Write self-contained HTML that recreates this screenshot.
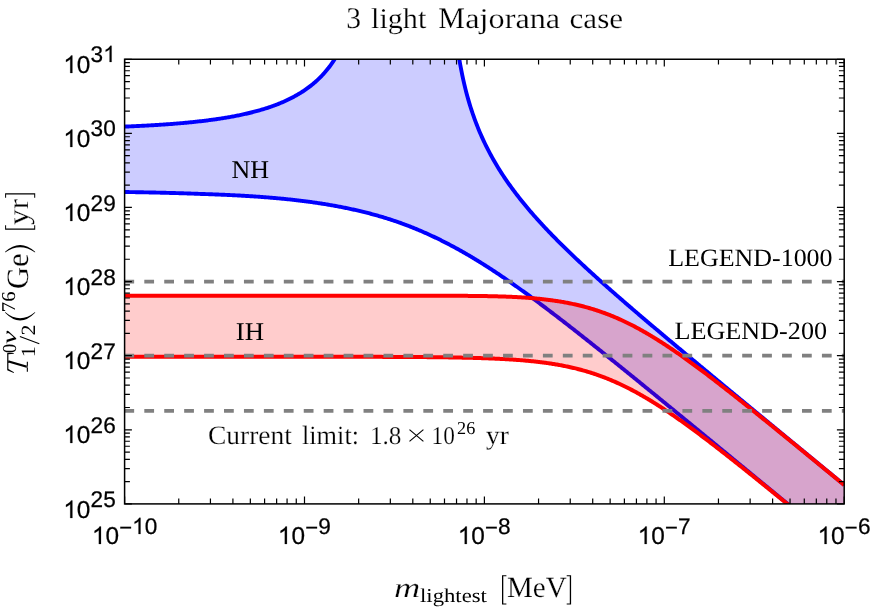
<!DOCTYPE html>
<html><head><meta charset="utf-8"><title>3 light Majorana case</title>
<style>html,body{margin:0;padding:0;background:#fff;}body{width:872px;height:615px;position:relative;overflow:hidden;font-family:"Liberation Sans",sans-serif;}</style>
</head><body>
<svg width="872" height="615" viewBox="0 0 872 615" style="position:absolute;left:0;top:0;will-change:transform" text-rendering="geometricPrecision">
<defs><clipPath id="c"><rect x="124.6" y="59.25" width="719.6" height="444.65"/></clipPath></defs>
<g clip-path="url(#c)">
<path d="M124.60,126.60 L125.63,126.56 L126.66,126.52 L127.69,126.48 L128.72,126.43 L129.75,126.39 L130.78,126.34 L131.81,126.30 L132.84,126.25 L133.87,126.21 L134.89,126.16 L135.92,126.11 L136.95,126.06 L137.98,126.01 L139.01,125.96 L140.04,125.91 L141.07,125.86 L142.10,125.81 L143.13,125.76 L144.16,125.70 L145.19,125.65 L146.22,125.59 L147.25,125.54 L148.28,125.48 L149.31,125.42 L150.34,125.36 L151.37,125.30 L152.40,125.24 L153.43,125.18 L154.45,125.12 L155.48,125.06 L156.51,124.99 L157.54,124.93 L158.57,124.87 L159.60,124.80 L160.63,124.73 L161.66,124.66 L162.69,124.59 L163.72,124.52 L164.75,124.45 L165.78,124.38 L166.81,124.31 L167.84,124.23 L168.87,124.16 L169.90,124.08 L170.93,124.00 L171.96,123.93 L172.99,123.85 L174.01,123.77 L175.04,123.68 L176.07,123.60 L177.10,123.52 L178.13,123.43 L179.16,123.34 L180.19,123.26 L181.22,123.17 L182.25,123.08 L183.28,122.98 L184.31,122.89 L185.34,122.79 L186.37,122.70 L187.40,122.60 L188.43,122.50 L189.46,122.40 L190.49,122.30 L191.52,122.20 L192.55,122.09 L193.57,121.99 L194.60,121.88 L195.63,121.77 L196.66,121.66 L197.69,121.54 L198.72,121.43 L199.75,121.31 L200.78,121.19 L201.81,121.07 L202.84,120.95 L203.87,120.83 L204.90,120.70 L205.93,120.58 L206.96,120.45 L207.99,120.32 L209.02,120.18 L210.05,120.05 L211.08,119.91 L212.11,119.77 L213.13,119.63 L214.16,119.49 L215.19,119.34 L216.22,119.20 L217.25,119.04 L218.28,118.89 L219.31,118.74 L220.34,118.58 L221.37,118.42 L222.40,118.26 L223.43,118.09 L224.46,117.93 L225.49,117.76 L226.52,117.58 L227.55,117.41 L228.58,117.23 L229.61,117.05 L230.64,116.87 L231.66,116.68 L232.69,116.49 L233.72,116.30 L234.75,116.10 L235.78,115.90 L236.81,115.70 L237.84,115.50 L238.87,115.29 L239.90,115.07 L240.93,114.86 L241.96,114.64 L242.99,114.42 L244.02,114.19 L245.05,113.96 L246.08,113.73 L247.11,113.49 L248.14,113.25 L249.17,113.00 L250.20,112.75 L251.22,112.50 L252.25,112.24 L253.28,111.98 L254.31,111.71 L255.34,111.44 L256.37,111.16 L257.40,110.88 L258.43,110.59 L259.46,110.30 L260.49,110.00 L261.52,109.70 L262.55,109.39 L263.58,109.08 L264.61,108.76 L265.64,108.44 L266.67,108.11 L267.70,107.78 L268.73,107.43 L269.76,107.09 L270.78,106.73 L271.81,106.37 L272.84,106.00 L273.87,105.63 L274.90,105.25 L275.93,104.86 L276.96,104.46 L277.99,104.06 L279.02,103.65 L280.05,103.23 L281.08,102.80 L282.11,102.37 L283.14,101.92 L284.17,101.47 L285.20,101.01 L286.23,100.53 L287.26,100.05 L288.29,99.56 L289.32,99.06 L290.34,98.55 L291.37,98.03 L292.40,97.50 L293.43,96.95 L294.46,96.40 L295.49,95.83 L296.52,95.25 L297.55,94.66 L298.58,94.05 L299.61,93.43 L300.64,92.80 L301.67,92.15 L302.70,91.49 L303.73,90.81 L304.76,90.12 L305.79,89.41 L306.82,88.68 L307.85,87.93 L308.88,87.17 L309.90,86.39 L310.93,85.59 L311.96,84.77 L312.99,83.92 L314.02,83.06 L315.05,82.17 L316.08,81.26 L317.11,80.32 L318.14,79.36 L319.17,78.37 L320.20,77.36 L321.23,76.31 L322.26,75.24 L323.29,74.13 L324.32,72.99 L325.35,71.81 L326.38,70.59 L327.41,69.34 L328.44,68.05 L329.46,66.71 L330.49,65.33 L331.52,63.90 L332.55,62.42 L333.58,60.89 L334.61,59.30 L335.64,57.65 L336.67,55.93 L337.70,54.15 L338.73,52.29 L339.76,50.35 L340.79,48.33 L341.82,46.22 L342.85,44.01 L343.88,41.69 L344.91,39.25 L345.94,36.69 L346.97,33.99 L348.00,31.14 L349.02,28.11 L350.05,24.90 L351.08,21.48 L352.11,17.82 L353.14,13.89 L354.17,9.66 L355.20,5.07 L356.23,0.07 L357.26,-5.43 L358.29,-11.51 L359.32,-18.31 L360.35,-26.00 L361.38,-34.86 L362.41,-45.27 L363.44,-57.85 L364.47,-73.71 L365.50,-95.10 L366.53,-127.84 L367.56,-199.41 L368.58,-300.00 L369.61,-300.00 L370.64,-300.00 L371.67,-300.00 L372.70,-300.00 L373.73,-300.00 L374.76,-300.00 L375.79,-300.00 L376.82,-300.00 L377.85,-300.00 L378.88,-300.00 L379.91,-300.00 L380.94,-300.00 L381.97,-300.00 L383.00,-300.00 L384.03,-300.00 L385.06,-300.00 L386.09,-300.00 L387.12,-300.00 L388.14,-300.00 L389.17,-300.00 L390.20,-300.00 L391.23,-300.00 L392.26,-300.00 L393.29,-300.00 L394.32,-300.00 L395.35,-300.00 L396.38,-300.00 L397.41,-300.00 L398.44,-300.00 L399.47,-300.00 L400.50,-300.00 L401.53,-300.00 L402.56,-300.00 L403.59,-300.00 L404.62,-300.00 L405.65,-300.00 L406.67,-300.00 L407.70,-300.00 L408.73,-300.00 L409.76,-300.00 L410.79,-300.00 L411.82,-300.00 L412.85,-300.00 L413.88,-300.00 L414.91,-300.00 L415.94,-300.00 L416.97,-300.00 L418.00,-300.00 L419.03,-300.00 L420.06,-300.00 L421.09,-300.00 L422.12,-300.00 L423.15,-300.00 L424.18,-300.00 L425.21,-300.00 L426.23,-300.00 L427.26,-300.00 L428.29,-300.00 L429.32,-300.00 L430.35,-300.00 L431.38,-300.00 L432.41,-300.00 L433.44,-300.00 L434.47,-300.00 L435.50,-300.00 L436.53,-300.00 L437.56,-300.00 L438.59,-300.00 L439.62,-300.00 L440.65,-300.00 L441.68,-300.00 L442.71,-300.00 L443.74,-300.00 L444.77,-300.00 L445.79,-300.00 L446.82,-300.00 L447.85,-300.00 L448.88,-102.64 L449.91,-55.73 L450.94,-28.67 L451.97,-9.50 L453.00,5.38 L454.03,17.57 L455.06,27.91 L456.09,36.90 L457.12,44.86 L458.15,52.01 L459.18,58.51 L460.21,64.47 L461.24,69.98 L462.27,75.10 L463.30,79.89 L464.33,84.39 L465.35,88.64 L466.38,92.67 L467.41,96.49 L468.44,100.14 L469.47,103.62 L470.50,106.96 L471.53,110.17 L472.56,113.25 L473.59,116.22 L474.62,119.09 L475.65,121.86 L476.68,124.55 L477.71,127.15 L478.74,129.68 L479.77,132.14 L480.80,134.53 L481.83,136.85 L482.86,139.12 L483.89,141.34 L484.91,143.50 L485.94,145.61 L486.97,147.68 L488.00,149.70 L489.03,151.68 L490.06,153.62 L491.09,155.53 L492.12,157.40 L493.15,159.23 L494.18,161.03 L495.21,162.80 L496.24,164.54 L497.27,166.26 L498.30,167.94 L499.33,169.61 L500.36,171.24 L501.39,172.85 L502.42,174.44 L503.45,176.01 L504.47,177.56 L505.50,179.08 L506.53,180.59 L507.56,182.08 L508.59,183.55 L509.62,185.00 L510.65,186.43 L511.68,187.85 L512.71,189.26 L513.74,190.64 L514.77,192.02 L515.80,193.38 L516.83,194.73 L517.86,196.06 L518.89,197.38 L519.92,198.69 L520.95,199.98 L521.98,201.27 L523.01,202.54 L524.03,203.81 L525.06,205.06 L526.09,206.30 L527.12,207.53 L528.15,208.75 L529.18,209.97 L530.21,211.17 L531.24,212.37 L532.27,213.56 L533.30,214.73 L534.33,215.91 L535.36,217.07 L536.39,218.22 L537.42,219.37 L538.45,220.51 L539.48,221.65 L540.51,222.77 L541.54,223.90 L542.57,225.01 L543.59,226.12 L544.62,227.22 L545.65,228.32 L546.68,229.41 L547.71,230.49 L548.74,231.57 L549.77,232.64 L550.80,233.71 L551.83,234.78 L552.86,235.83 L553.89,236.89 L554.92,237.94 L555.95,238.98 L556.98,240.02 L558.01,241.06 L559.04,242.09 L560.07,243.12 L561.10,244.14 L562.13,245.16 L563.15,246.18 L564.18,247.19 L565.21,248.20 L566.24,249.20 L567.27,250.20 L568.30,251.20 L569.33,252.19 L570.36,253.18 L571.39,254.17 L572.42,255.16 L573.45,256.14 L574.48,257.12 L575.51,258.09 L576.54,259.07 L577.57,260.04 L578.60,261.00 L579.63,261.97 L580.66,262.93 L581.68,263.89 L582.71,264.85 L583.74,265.80 L584.77,266.76 L585.80,267.71 L586.83,268.65 L587.86,269.60 L588.89,270.54 L589.92,271.49 L590.95,272.42 L591.98,273.36 L593.01,274.30 L594.04,275.23 L595.07,276.16 L596.10,277.09 L597.13,278.02 L598.16,278.95 L599.19,279.87 L600.22,280.79 L601.24,281.71 L602.27,282.63 L603.30,283.55 L604.33,284.47 L605.36,285.38 L606.39,286.30 L607.42,287.21 L608.45,288.12 L609.48,289.03 L610.51,289.93 L611.54,290.84 L612.57,291.75 L613.60,292.65 L614.63,293.55 L615.66,294.45 L616.69,295.35 L617.72,296.25 L618.75,297.15 L619.78,298.05 L620.80,298.94 L621.83,299.84 L622.86,300.73 L623.89,301.62 L624.92,302.51 L625.95,303.40 L626.98,304.29 L628.01,305.18 L629.04,306.07 L630.07,306.95 L631.10,307.84 L632.13,308.72 L633.16,309.61 L634.19,310.49 L635.22,311.37 L636.25,312.25 L637.28,313.14 L638.31,314.02 L639.34,314.89 L640.36,315.77 L641.39,316.65 L642.42,317.53 L643.45,318.40 L644.48,319.28 L645.51,320.15 L646.54,321.03 L647.57,321.90 L648.60,322.78 L649.63,323.65 L650.66,324.52 L651.69,325.39 L652.72,326.26 L653.75,327.13 L654.78,328.00 L655.81,328.87 L656.84,329.74 L657.87,330.61 L658.90,331.48 L659.92,332.34 L660.95,333.21 L661.98,334.08 L663.01,334.94 L664.04,335.81 L665.07,336.67 L666.10,337.54 L667.13,338.40 L668.16,339.27 L669.19,340.13 L670.22,340.99 L671.25,341.86 L672.28,342.72 L673.31,343.58 L674.34,344.44 L675.37,345.30 L676.40,346.16 L677.43,347.02 L678.46,347.88 L679.48,348.74 L680.51,349.60 L681.54,350.46 L682.57,351.32 L683.60,352.18 L684.63,353.04 L685.66,353.90 L686.69,354.76 L687.72,355.61 L688.75,356.47 L689.78,357.33 L690.81,358.19 L691.84,359.04 L692.87,359.90 L693.90,360.76 L694.93,361.61 L695.96,362.47 L696.99,363.33 L698.02,364.18 L699.04,365.04 L700.07,365.89 L701.10,366.75 L702.13,367.60 L703.16,368.46 L704.19,369.31 L705.22,370.17 L706.25,371.02 L707.28,371.87 L708.31,372.73 L709.34,373.58 L710.37,374.44 L711.40,375.29 L712.43,376.14 L713.46,377.00 L714.49,377.85 L715.52,378.70 L716.55,379.56 L717.58,380.41 L718.60,381.26 L719.63,382.11 L720.66,382.97 L721.69,383.82 L722.72,384.67 L723.75,385.52 L724.78,386.38 L725.81,387.23 L726.84,388.08 L727.87,388.93 L728.90,389.78 L729.93,390.63 L730.96,391.49 L731.99,392.34 L733.02,393.19 L734.05,394.04 L735.08,394.89 L736.11,395.74 L737.14,396.59 L738.16,397.44 L739.19,398.29 L740.22,399.14 L741.25,400.00 L742.28,400.85 L743.31,401.70 L744.34,402.55 L745.37,403.40 L746.40,404.25 L747.43,405.10 L748.46,405.95 L749.49,406.80 L750.52,407.65 L751.55,408.50 L752.58,409.35 L753.61,410.20 L754.64,411.05 L755.67,411.90 L756.69,412.75 L757.72,413.60 L758.75,414.45 L759.78,415.30 L760.81,416.15 L761.84,417.00 L762.87,417.85 L763.90,418.70 L764.93,419.55 L765.96,420.40 L766.99,421.25 L768.02,422.10 L769.05,422.94 L770.08,423.79 L771.11,424.64 L772.14,425.49 L773.17,426.34 L774.20,427.19 L775.23,428.04 L776.25,428.89 L777.28,429.74 L778.31,430.59 L779.34,431.44 L780.37,432.29 L781.40,433.14 L782.43,433.98 L783.46,434.83 L784.49,435.68 L785.52,436.53 L786.55,437.38 L787.58,438.23 L788.61,439.08 L789.64,439.93 L790.67,440.78 L791.70,441.63 L792.73,442.47 L793.76,443.32 L794.79,444.17 L795.81,445.02 L796.84,445.87 L797.87,446.72 L798.90,447.57 L799.93,448.42 L800.96,449.26 L801.99,450.11 L803.02,450.96 L804.05,451.81 L805.08,452.66 L806.11,453.51 L807.14,454.36 L808.17,455.20 L809.20,456.05 L810.23,456.90 L811.26,457.75 L812.29,458.60 L813.32,459.45 L814.35,460.30 L815.37,461.15 L816.40,461.99 L817.43,462.84 L818.46,463.69 L819.49,464.54 L820.52,465.39 L821.55,466.24 L822.58,467.08 L823.61,467.93 L824.64,468.78 L825.67,469.63 L826.70,470.48 L827.73,471.33 L828.76,472.18 L829.79,473.02 L830.82,473.87 L831.85,474.72 L832.88,475.57 L833.91,476.42 L834.93,477.27 L835.96,478.11 L836.99,478.96 L838.02,479.81 L839.05,480.66 L840.08,481.51 L841.11,482.36 L842.14,483.20 L843.17,484.05 L844.20,484.90 L844.20,550.46 L843.17,549.61 L842.14,548.76 L841.11,547.92 L840.08,547.07 L839.05,546.22 L838.02,545.37 L836.99,544.52 L835.96,543.68 L834.93,542.83 L833.91,541.98 L832.88,541.13 L831.85,540.28 L830.82,539.44 L829.79,538.59 L828.76,537.74 L827.73,536.89 L826.70,536.04 L825.67,535.20 L824.64,534.35 L823.61,533.50 L822.58,532.65 L821.55,531.80 L820.52,530.96 L819.49,530.11 L818.46,529.26 L817.43,528.41 L816.40,527.56 L815.37,526.72 L814.35,525.87 L813.32,525.02 L812.29,524.17 L811.26,523.32 L810.23,522.48 L809.20,521.63 L808.17,520.78 L807.14,519.93 L806.11,519.08 L805.08,518.24 L804.05,517.39 L803.02,516.54 L801.99,515.69 L800.96,514.84 L799.93,514.00 L798.90,513.15 L797.87,512.30 L796.84,511.45 L795.81,510.60 L794.79,509.76 L793.76,508.91 L792.73,508.06 L791.70,507.21 L790.67,506.36 L789.64,505.52 L788.61,504.67 L787.58,503.82 L786.55,502.97 L785.52,502.12 L784.49,501.28 L783.46,500.43 L782.43,499.58 L781.40,498.73 L780.37,497.89 L779.34,497.04 L778.31,496.19 L777.28,495.34 L776.25,494.49 L775.23,493.65 L774.20,492.80 L773.17,491.95 L772.14,491.10 L771.11,490.26 L770.08,489.41 L769.05,488.56 L768.02,487.71 L766.99,486.86 L765.96,486.02 L764.93,485.17 L763.90,484.32 L762.87,483.47 L761.84,482.63 L760.81,481.78 L759.78,480.93 L758.75,480.08 L757.72,479.24 L756.69,478.39 L755.67,477.54 L754.64,476.69 L753.61,475.85 L752.58,475.00 L751.55,474.15 L750.52,473.30 L749.49,472.46 L748.46,471.61 L747.43,470.76 L746.40,469.91 L745.37,469.07 L744.34,468.22 L743.31,467.37 L742.28,466.52 L741.25,465.68 L740.22,464.83 L739.19,463.98 L738.16,463.14 L737.14,462.29 L736.11,461.44 L735.08,460.59 L734.05,459.75 L733.02,458.90 L731.99,458.05 L730.96,457.21 L729.93,456.36 L728.90,455.51 L727.87,454.66 L726.84,453.82 L725.81,452.97 L724.78,452.12 L723.75,451.28 L722.72,450.43 L721.69,449.58 L720.66,448.74 L719.63,447.89 L718.60,447.04 L717.58,446.20 L716.55,445.35 L715.52,444.50 L714.49,443.66 L713.46,442.81 L712.43,441.97 L711.40,441.12 L710.37,440.27 L709.34,439.43 L708.31,438.58 L707.28,437.73 L706.25,436.89 L705.22,436.04 L704.19,435.20 L703.16,434.35 L702.13,433.51 L701.10,432.66 L700.07,431.81 L699.04,430.97 L698.02,430.12 L696.99,429.28 L695.96,428.43 L694.93,427.59 L693.90,426.74 L692.87,425.90 L691.84,425.05 L690.81,424.21 L689.78,423.36 L688.75,422.52 L687.72,421.67 L686.69,420.83 L685.66,419.98 L684.63,419.14 L683.60,418.29 L682.57,417.45 L681.54,416.60 L680.51,415.76 L679.48,414.92 L678.46,414.07 L677.43,413.23 L676.40,412.39 L675.37,411.54 L674.34,410.70 L673.31,409.85 L672.28,409.01 L671.25,408.17 L670.22,407.33 L669.19,406.48 L668.16,405.64 L667.13,404.80 L666.10,403.96 L665.07,403.11 L664.04,402.27 L663.01,401.43 L661.98,400.59 L660.95,399.75 L659.92,398.90 L658.90,398.06 L657.87,397.22 L656.84,396.38 L655.81,395.54 L654.78,394.70 L653.75,393.86 L652.72,393.02 L651.69,392.18 L650.66,391.34 L649.63,390.50 L648.60,389.66 L647.57,388.82 L646.54,387.98 L645.51,387.14 L644.48,386.30 L643.45,385.46 L642.42,384.63 L641.39,383.79 L640.36,382.95 L639.34,382.11 L638.31,381.27 L637.28,380.44 L636.25,379.60 L635.22,378.76 L634.19,377.93 L633.16,377.09 L632.13,376.26 L631.10,375.42 L630.07,374.59 L629.04,373.75 L628.01,372.92 L626.98,372.08 L625.95,371.25 L624.92,370.42 L623.89,369.58 L622.86,368.75 L621.83,367.92 L620.80,367.08 L619.78,366.25 L618.75,365.42 L617.72,364.59 L616.69,363.76 L615.66,362.93 L614.63,362.10 L613.60,361.27 L612.57,360.44 L611.54,359.61 L610.51,358.78 L609.48,357.96 L608.45,357.13 L607.42,356.30 L606.39,355.48 L605.36,354.65 L604.33,353.82 L603.30,353.00 L602.27,352.18 L601.24,351.35 L600.22,350.53 L599.19,349.70 L598.16,348.88 L597.13,348.06 L596.10,347.24 L595.07,346.42 L594.04,345.60 L593.01,344.78 L591.98,343.96 L590.95,343.14 L589.92,342.32 L588.89,341.51 L587.86,340.69 L586.83,339.87 L585.80,339.06 L584.77,338.24 L583.74,337.43 L582.71,336.62 L581.68,335.80 L580.66,334.99 L579.63,334.18 L578.60,333.37 L577.57,332.56 L576.54,331.75 L575.51,330.95 L574.48,330.14 L573.45,329.33 L572.42,328.53 L571.39,327.72 L570.36,326.92 L569.33,326.12 L568.30,325.31 L567.27,324.51 L566.24,323.71 L565.21,322.91 L564.18,322.12 L563.15,321.32 L562.13,320.52 L561.10,319.73 L560.07,318.93 L559.04,318.14 L558.01,317.35 L556.98,316.56 L555.95,315.77 L554.92,314.98 L553.89,314.19 L552.86,313.41 L551.83,312.62 L550.80,311.84 L549.77,311.05 L548.74,310.27 L547.71,309.49 L546.68,308.71 L545.65,307.93 L544.62,307.16 L543.59,306.38 L542.57,305.61 L541.54,304.84 L540.51,304.07 L539.48,303.30 L538.45,302.53 L537.42,301.76 L536.39,301.00 L535.36,300.23 L534.33,299.47 L533.30,298.71 L532.27,297.95 L531.24,297.20 L530.21,296.44 L529.18,295.69 L528.15,294.93 L527.12,294.18 L526.09,293.44 L525.06,292.69 L524.03,291.94 L523.01,291.20 L521.98,290.46 L520.95,289.72 L519.92,288.98 L518.89,288.25 L517.86,287.51 L516.83,286.78 L515.80,286.05 L514.77,285.33 L513.74,284.60 L512.71,283.88 L511.68,283.16 L510.65,282.44 L509.62,281.72 L508.59,281.01 L507.56,280.29 L506.53,279.58 L505.50,278.88 L504.47,278.17 L503.45,277.47 L502.42,276.77 L501.39,276.07 L500.36,275.37 L499.33,274.68 L498.30,273.99 L497.27,273.30 L496.24,272.62 L495.21,271.93 L494.18,271.25 L493.15,270.58 L492.12,269.90 L491.09,269.23 L490.06,268.56 L489.03,267.89 L488.00,267.23 L486.97,266.57 L485.94,265.91 L484.91,265.25 L483.89,264.60 L482.86,263.95 L481.83,263.31 L480.80,262.66 L479.77,262.02 L478.74,261.39 L477.71,260.75 L476.68,260.12 L475.65,259.49 L474.62,258.87 L473.59,258.25 L472.56,257.63 L471.53,257.01 L470.50,256.40 L469.47,255.79 L468.44,255.18 L467.41,254.58 L466.38,253.98 L465.35,253.39 L464.33,252.79 L463.30,252.21 L462.27,251.62 L461.24,251.04 L460.21,250.46 L459.18,249.88 L458.15,249.31 L457.12,248.74 L456.09,248.18 L455.06,247.62 L454.03,247.06 L453.00,246.50 L451.97,245.95 L450.94,245.40 L449.91,244.86 L448.88,244.32 L447.85,243.78 L446.82,243.25 L445.79,242.72 L444.77,242.19 L443.74,241.67 L442.71,241.15 L441.68,240.64 L440.65,240.12 L439.62,239.62 L438.59,239.11 L437.56,238.61 L436.53,238.11 L435.50,237.62 L434.47,237.13 L433.44,236.64 L432.41,236.16 L431.38,235.68 L430.35,235.20 L429.32,234.73 L428.29,234.26 L427.26,233.80 L426.23,233.34 L425.21,232.88 L424.18,232.43 L423.15,231.97 L422.12,231.53 L421.09,231.08 L420.06,230.64 L419.03,230.21 L418.00,229.78 L416.97,229.35 L415.94,228.92 L414.91,228.50 L413.88,228.08 L412.85,227.67 L411.82,227.25 L410.79,226.85 L409.76,226.44 L408.73,226.04 L407.70,225.64 L406.67,225.25 L405.65,224.86 L404.62,224.47 L403.59,224.09 L402.56,223.71 L401.53,223.33 L400.50,222.95 L399.47,222.59 L398.44,222.23 L397.41,221.87 L396.38,221.52 L395.35,221.17 L394.32,220.83 L393.29,220.49 L392.26,220.15 L391.23,219.81 L390.20,219.48 L389.17,219.15 L388.14,218.83 L387.12,218.50 L386.09,218.18 L385.06,217.87 L384.03,217.55 L383.00,217.24 L381.97,216.94 L380.94,216.63 L379.91,216.33 L378.88,216.03 L377.85,215.74 L376.82,215.45 L375.79,215.16 L374.76,214.87 L373.73,214.59 L372.70,214.31 L371.67,214.03 L370.64,213.75 L369.61,213.48 L368.58,213.21 L367.56,212.95 L366.53,212.68 L365.50,212.42 L364.47,212.16 L363.44,211.91 L362.41,211.66 L361.38,211.41 L360.35,211.16 L359.32,210.92 L358.29,210.67 L357.26,210.43 L356.23,210.20 L355.20,209.96 L354.17,209.73 L353.14,209.50 L352.11,209.28 L351.08,209.05 L350.05,208.83 L349.02,208.61 L348.00,208.39 L346.97,208.18 L345.94,207.97 L344.91,207.76 L343.88,207.55 L342.85,207.35 L341.82,207.14 L340.79,206.94 L339.76,206.75 L338.73,206.55 L337.70,206.36 L336.67,206.16 L335.64,205.98 L334.61,205.79 L333.58,205.60 L332.55,205.42 L331.52,205.24 L330.49,205.06 L329.46,204.89 L328.44,204.71 L327.41,204.54 L326.38,204.37 L325.35,204.20 L324.32,204.03 L323.29,203.87 L322.26,203.71 L321.23,203.55 L320.20,203.39 L319.17,203.23 L318.14,203.08 L317.11,202.92 L316.08,202.77 L315.05,202.62 L314.02,202.47 L312.99,202.33 L311.96,202.18 L310.93,202.04 L309.90,201.90 L308.88,201.76 L307.85,201.63 L306.82,201.49 L305.79,201.36 L304.76,201.22 L303.73,201.09 L302.70,200.97 L301.67,200.84 L300.64,200.71 L299.61,200.59 L298.58,200.47 L297.55,200.34 L296.52,200.23 L295.49,200.11 L294.46,199.99 L293.43,199.88 L292.40,199.76 L291.37,199.65 L290.34,199.54 L289.32,199.43 L288.29,199.32 L287.26,199.21 L286.23,199.11 L285.20,199.01 L284.17,198.90 L283.14,198.80 L282.11,198.70 L281.08,198.60 L280.05,198.51 L279.02,198.41 L277.99,198.32 L276.96,198.22 L275.93,198.13 L274.90,198.04 L273.87,197.95 L272.84,197.86 L271.81,197.77 L270.78,197.69 L269.76,197.60 L268.73,197.52 L267.70,197.43 L266.67,197.35 L265.64,197.27 L264.61,197.19 L263.58,197.11 L262.55,197.03 L261.52,196.96 L260.49,196.88 L259.46,196.81 L258.43,196.73 L257.40,196.66 L256.37,196.59 L255.34,196.52 L254.31,196.45 L253.28,196.38 L252.25,196.31 L251.22,196.25 L250.20,196.18 L249.17,196.12 L248.14,196.05 L247.11,195.99 L246.08,195.93 L245.05,195.87 L244.02,195.81 L242.99,195.75 L241.96,195.69 L240.93,195.63 L239.90,195.57 L238.87,195.52 L237.84,195.46 L236.81,195.41 L235.78,195.35 L234.75,195.30 L233.72,195.25 L232.69,195.20 L231.66,195.15 L230.64,195.10 L229.61,195.05 L228.58,195.00 L227.55,194.95 L226.52,194.90 L225.49,194.86 L224.46,194.81 L223.43,194.77 L222.40,194.72 L221.37,194.68 L220.34,194.63 L219.31,194.59 L218.28,194.55 L217.25,194.51 L216.22,194.47 L215.19,194.43 L214.16,194.39 L213.13,194.35 L212.11,194.31 L211.08,194.27 L210.05,194.24 L209.02,194.20 L207.99,194.17 L206.96,194.13 L205.93,194.10 L204.90,194.06 L203.87,194.03 L202.84,193.99 L201.81,193.96 L200.78,193.93 L199.75,193.90 L198.72,193.86 L197.69,193.82 L196.66,193.78 L195.63,193.74 L194.60,193.70 L193.57,193.66 L192.55,193.63 L191.52,193.59 L190.49,193.56 L189.46,193.52 L188.43,193.49 L187.40,193.45 L186.37,193.42 L185.34,193.38 L184.31,193.35 L183.28,193.32 L182.25,193.28 L181.22,193.25 L180.19,193.22 L179.16,193.19 L178.13,193.16 L177.10,193.13 L176.07,193.10 L175.04,193.07 L174.01,193.04 L172.99,193.01 L171.96,192.98 L170.93,192.95 L169.90,192.93 L168.87,192.90 L167.84,192.87 L166.81,192.85 L165.78,192.82 L164.75,192.79 L163.72,192.77 L162.69,192.74 L161.66,192.72 L160.63,192.69 L159.60,192.67 L158.57,192.64 L157.54,192.62 L156.51,192.60 L155.48,192.57 L154.45,192.55 L153.43,192.53 L152.40,192.51 L151.37,192.48 L150.34,192.46 L149.31,192.44 L148.28,192.42 L147.25,192.40 L146.22,192.38 L145.19,192.36 L144.16,192.34 L143.13,192.32 L142.10,192.30 L141.07,192.28 L140.04,192.26 L139.01,192.24 L137.98,192.22 L136.95,192.20 L135.92,192.19 L134.89,192.17 L133.87,192.15 L132.84,192.13 L131.81,192.11 L130.78,192.10 L129.75,192.08 L128.72,192.06 L127.69,192.05 L126.66,192.03 L125.63,192.02 L124.60,192.00Z" fill="#0000ff" fill-opacity="0.2"/>
<path d="M124.60,126.60 L125.63,126.56 L126.66,126.52 L127.69,126.48 L128.72,126.43 L129.75,126.39 L130.78,126.34 L131.81,126.30 L132.84,126.25 L133.87,126.21 L134.89,126.16 L135.92,126.11 L136.95,126.06 L137.98,126.01 L139.01,125.96 L140.04,125.91 L141.07,125.86 L142.10,125.81 L143.13,125.76 L144.16,125.70 L145.19,125.65 L146.22,125.59 L147.25,125.54 L148.28,125.48 L149.31,125.42 L150.34,125.36 L151.37,125.30 L152.40,125.24 L153.43,125.18 L154.45,125.12 L155.48,125.06 L156.51,124.99 L157.54,124.93 L158.57,124.87 L159.60,124.80 L160.63,124.73 L161.66,124.66 L162.69,124.59 L163.72,124.52 L164.75,124.45 L165.78,124.38 L166.81,124.31 L167.84,124.23 L168.87,124.16 L169.90,124.08 L170.93,124.00 L171.96,123.93 L172.99,123.85 L174.01,123.77 L175.04,123.68 L176.07,123.60 L177.10,123.52 L178.13,123.43 L179.16,123.34 L180.19,123.26 L181.22,123.17 L182.25,123.08 L183.28,122.98 L184.31,122.89 L185.34,122.79 L186.37,122.70 L187.40,122.60 L188.43,122.50 L189.46,122.40 L190.49,122.30 L191.52,122.20 L192.55,122.09 L193.57,121.99 L194.60,121.88 L195.63,121.77 L196.66,121.66 L197.69,121.54 L198.72,121.43 L199.75,121.31 L200.78,121.19 L201.81,121.07 L202.84,120.95 L203.87,120.83 L204.90,120.70 L205.93,120.58 L206.96,120.45 L207.99,120.32 L209.02,120.18 L210.05,120.05 L211.08,119.91 L212.11,119.77 L213.13,119.63 L214.16,119.49 L215.19,119.34 L216.22,119.20 L217.25,119.04 L218.28,118.89 L219.31,118.74 L220.34,118.58 L221.37,118.42 L222.40,118.26 L223.43,118.09 L224.46,117.93 L225.49,117.76 L226.52,117.58 L227.55,117.41 L228.58,117.23 L229.61,117.05 L230.64,116.87 L231.66,116.68 L232.69,116.49 L233.72,116.30 L234.75,116.10 L235.78,115.90 L236.81,115.70 L237.84,115.50 L238.87,115.29 L239.90,115.07 L240.93,114.86 L241.96,114.64 L242.99,114.42 L244.02,114.19 L245.05,113.96 L246.08,113.73 L247.11,113.49 L248.14,113.25 L249.17,113.00 L250.20,112.75 L251.22,112.50 L252.25,112.24 L253.28,111.98 L254.31,111.71 L255.34,111.44 L256.37,111.16 L257.40,110.88 L258.43,110.59 L259.46,110.30 L260.49,110.00 L261.52,109.70 L262.55,109.39 L263.58,109.08 L264.61,108.76 L265.64,108.44 L266.67,108.11 L267.70,107.78 L268.73,107.43 L269.76,107.09 L270.78,106.73 L271.81,106.37 L272.84,106.00 L273.87,105.63 L274.90,105.25 L275.93,104.86 L276.96,104.46 L277.99,104.06 L279.02,103.65 L280.05,103.23 L281.08,102.80 L282.11,102.37 L283.14,101.92 L284.17,101.47 L285.20,101.01 L286.23,100.53 L287.26,100.05 L288.29,99.56 L289.32,99.06 L290.34,98.55 L291.37,98.03 L292.40,97.50 L293.43,96.95 L294.46,96.40 L295.49,95.83 L296.52,95.25 L297.55,94.66 L298.58,94.05 L299.61,93.43 L300.64,92.80 L301.67,92.15 L302.70,91.49 L303.73,90.81 L304.76,90.12 L305.79,89.41 L306.82,88.68 L307.85,87.93 L308.88,87.17 L309.90,86.39 L310.93,85.59 L311.96,84.77 L312.99,83.92 L314.02,83.06 L315.05,82.17 L316.08,81.26 L317.11,80.32 L318.14,79.36 L319.17,78.37 L320.20,77.36 L321.23,76.31 L322.26,75.24 L323.29,74.13 L324.32,72.99 L325.35,71.81 L326.38,70.59 L327.41,69.34 L328.44,68.05 L329.46,66.71 L330.49,65.33 L331.52,63.90 L332.55,62.42 L333.58,60.89 L334.61,59.30 L335.64,57.65 L336.67,55.93 L337.70,54.15 L338.73,52.29 L339.76,50.35 L340.79,48.33 L341.82,46.22 L342.85,44.01 L343.88,41.69 L344.91,39.25 L345.94,36.69 L346.97,33.99 L348.00,31.14 L349.02,28.11 L350.05,24.90 L351.08,21.48 L352.11,17.82 L353.14,13.89 L354.17,9.66 L355.20,5.07 L356.23,0.07 L357.26,-5.43 L358.29,-11.51 L359.32,-18.31 L360.35,-26.00 L361.38,-34.86 L362.41,-45.27 L363.44,-57.85 L364.47,-73.71 L365.50,-95.10 L366.53,-127.84 L367.56,-199.41 L368.58,-300.00 L369.61,-300.00 L370.64,-300.00 L371.67,-300.00 L372.70,-300.00 L373.73,-300.00 L374.76,-300.00 L375.79,-300.00 L376.82,-300.00 L377.85,-300.00 L378.88,-300.00 L379.91,-300.00 L380.94,-300.00 L381.97,-300.00 L383.00,-300.00 L384.03,-300.00 L385.06,-300.00 L386.09,-300.00 L387.12,-300.00 L388.14,-300.00 L389.17,-300.00 L390.20,-300.00 L391.23,-300.00 L392.26,-300.00 L393.29,-300.00 L394.32,-300.00 L395.35,-300.00 L396.38,-300.00 L397.41,-300.00 L398.44,-300.00 L399.47,-300.00 L400.50,-300.00 L401.53,-300.00 L402.56,-300.00 L403.59,-300.00 L404.62,-300.00 L405.65,-300.00 L406.67,-300.00 L407.70,-300.00 L408.73,-300.00 L409.76,-300.00 L410.79,-300.00 L411.82,-300.00 L412.85,-300.00 L413.88,-300.00 L414.91,-300.00 L415.94,-300.00 L416.97,-300.00 L418.00,-300.00 L419.03,-300.00 L420.06,-300.00 L421.09,-300.00 L422.12,-300.00 L423.15,-300.00 L424.18,-300.00 L425.21,-300.00 L426.23,-300.00 L427.26,-300.00 L428.29,-300.00 L429.32,-300.00 L430.35,-300.00 L431.38,-300.00 L432.41,-300.00 L433.44,-300.00 L434.47,-300.00 L435.50,-300.00 L436.53,-300.00 L437.56,-300.00 L438.59,-300.00 L439.62,-300.00 L440.65,-300.00 L441.68,-300.00 L442.71,-300.00 L443.74,-300.00 L444.77,-300.00 L445.79,-300.00 L446.82,-300.00 L447.85,-300.00 L448.88,-102.64 L449.91,-55.73 L450.94,-28.67 L451.97,-9.50 L453.00,5.38 L454.03,17.57 L455.06,27.91 L456.09,36.90 L457.12,44.86 L458.15,52.01 L459.18,58.51 L460.21,64.47 L461.24,69.98 L462.27,75.10 L463.30,79.89 L464.33,84.39 L465.35,88.64 L466.38,92.67 L467.41,96.49 L468.44,100.14 L469.47,103.62 L470.50,106.96 L471.53,110.17 L472.56,113.25 L473.59,116.22 L474.62,119.09 L475.65,121.86 L476.68,124.55 L477.71,127.15 L478.74,129.68 L479.77,132.14 L480.80,134.53 L481.83,136.85 L482.86,139.12 L483.89,141.34 L484.91,143.50 L485.94,145.61 L486.97,147.68 L488.00,149.70 L489.03,151.68 L490.06,153.62 L491.09,155.53 L492.12,157.40 L493.15,159.23 L494.18,161.03 L495.21,162.80 L496.24,164.54 L497.27,166.26 L498.30,167.94 L499.33,169.61 L500.36,171.24 L501.39,172.85 L502.42,174.44 L503.45,176.01 L504.47,177.56 L505.50,179.08 L506.53,180.59 L507.56,182.08 L508.59,183.55 L509.62,185.00 L510.65,186.43 L511.68,187.85 L512.71,189.26 L513.74,190.64 L514.77,192.02 L515.80,193.38 L516.83,194.73 L517.86,196.06 L518.89,197.38 L519.92,198.69 L520.95,199.98 L521.98,201.27 L523.01,202.54 L524.03,203.81 L525.06,205.06 L526.09,206.30 L527.12,207.53 L528.15,208.75 L529.18,209.97 L530.21,211.17 L531.24,212.37 L532.27,213.56 L533.30,214.73 L534.33,215.91 L535.36,217.07 L536.39,218.22 L537.42,219.37 L538.45,220.51 L539.48,221.65 L540.51,222.77 L541.54,223.90 L542.57,225.01 L543.59,226.12 L544.62,227.22 L545.65,228.32 L546.68,229.41 L547.71,230.49 L548.74,231.57 L549.77,232.64 L550.80,233.71 L551.83,234.78 L552.86,235.83 L553.89,236.89 L554.92,237.94 L555.95,238.98 L556.98,240.02 L558.01,241.06 L559.04,242.09 L560.07,243.12 L561.10,244.14 L562.13,245.16 L563.15,246.18 L564.18,247.19 L565.21,248.20 L566.24,249.20 L567.27,250.20 L568.30,251.20 L569.33,252.19 L570.36,253.18 L571.39,254.17 L572.42,255.16 L573.45,256.14 L574.48,257.12 L575.51,258.09 L576.54,259.07 L577.57,260.04 L578.60,261.00 L579.63,261.97 L580.66,262.93 L581.68,263.89 L582.71,264.85 L583.74,265.80 L584.77,266.76 L585.80,267.71 L586.83,268.65 L587.86,269.60 L588.89,270.54 L589.92,271.49 L590.95,272.42 L591.98,273.36 L593.01,274.30 L594.04,275.23 L595.07,276.16 L596.10,277.09 L597.13,278.02 L598.16,278.95 L599.19,279.87 L600.22,280.79 L601.24,281.71 L602.27,282.63 L603.30,283.55 L604.33,284.47 L605.36,285.38 L606.39,286.30 L607.42,287.21 L608.45,288.12 L609.48,289.03 L610.51,289.93 L611.54,290.84 L612.57,291.75 L613.60,292.65 L614.63,293.55 L615.66,294.45 L616.69,295.35 L617.72,296.25 L618.75,297.15 L619.78,298.05 L620.80,298.94 L621.83,299.84 L622.86,300.73 L623.89,301.62 L624.92,302.51 L625.95,303.40 L626.98,304.29 L628.01,305.18 L629.04,306.07 L630.07,306.95 L631.10,307.84 L632.13,308.72 L633.16,309.61 L634.19,310.49 L635.22,311.37 L636.25,312.25 L637.28,313.14 L638.31,314.02 L639.34,314.89 L640.36,315.77 L641.39,316.65 L642.42,317.53 L643.45,318.40 L644.48,319.28 L645.51,320.15 L646.54,321.03 L647.57,321.90 L648.60,322.78 L649.63,323.65 L650.66,324.52 L651.69,325.39 L652.72,326.26 L653.75,327.13 L654.78,328.00 L655.81,328.87 L656.84,329.74 L657.87,330.61 L658.90,331.48 L659.92,332.34 L660.95,333.21 L661.98,334.08 L663.01,334.94 L664.04,335.81 L665.07,336.67 L666.10,337.54 L667.13,338.40 L668.16,339.27 L669.19,340.13 L670.22,340.99 L671.25,341.86 L672.28,342.72 L673.31,343.58 L674.34,344.44 L675.37,345.30 L676.40,346.16 L677.43,347.02 L678.46,347.88 L679.48,348.74 L680.51,349.60 L681.54,350.46 L682.57,351.32 L683.60,352.18 L684.63,353.04 L685.66,353.90 L686.69,354.76 L687.72,355.61 L688.75,356.47 L689.78,357.33 L690.81,358.19 L691.84,359.04 L692.87,359.90 L693.90,360.76 L694.93,361.61 L695.96,362.47 L696.99,363.33 L698.02,364.18 L699.04,365.04 L700.07,365.89 L701.10,366.75 L702.13,367.60 L703.16,368.46 L704.19,369.31 L705.22,370.17 L706.25,371.02 L707.28,371.87 L708.31,372.73 L709.34,373.58 L710.37,374.44 L711.40,375.29 L712.43,376.14 L713.46,377.00 L714.49,377.85 L715.52,378.70 L716.55,379.56 L717.58,380.41 L718.60,381.26 L719.63,382.11 L720.66,382.97 L721.69,383.82 L722.72,384.67 L723.75,385.52 L724.78,386.38 L725.81,387.23 L726.84,388.08 L727.87,388.93 L728.90,389.78 L729.93,390.63 L730.96,391.49 L731.99,392.34 L733.02,393.19 L734.05,394.04 L735.08,394.89 L736.11,395.74 L737.14,396.59 L738.16,397.44 L739.19,398.29 L740.22,399.14 L741.25,400.00 L742.28,400.85 L743.31,401.70 L744.34,402.55 L745.37,403.40 L746.40,404.25 L747.43,405.10 L748.46,405.95 L749.49,406.80 L750.52,407.65 L751.55,408.50 L752.58,409.35 L753.61,410.20 L754.64,411.05 L755.67,411.90 L756.69,412.75 L757.72,413.60 L758.75,414.45 L759.78,415.30 L760.81,416.15 L761.84,417.00 L762.87,417.85 L763.90,418.70 L764.93,419.55 L765.96,420.40 L766.99,421.25 L768.02,422.10 L769.05,422.94 L770.08,423.79 L771.11,424.64 L772.14,425.49 L773.17,426.34 L774.20,427.19 L775.23,428.04 L776.25,428.89 L777.28,429.74 L778.31,430.59 L779.34,431.44 L780.37,432.29 L781.40,433.14 L782.43,433.98 L783.46,434.83 L784.49,435.68 L785.52,436.53 L786.55,437.38 L787.58,438.23 L788.61,439.08 L789.64,439.93 L790.67,440.78 L791.70,441.63 L792.73,442.47 L793.76,443.32 L794.79,444.17 L795.81,445.02 L796.84,445.87 L797.87,446.72 L798.90,447.57 L799.93,448.42 L800.96,449.26 L801.99,450.11 L803.02,450.96 L804.05,451.81 L805.08,452.66 L806.11,453.51 L807.14,454.36 L808.17,455.20 L809.20,456.05 L810.23,456.90 L811.26,457.75 L812.29,458.60 L813.32,459.45 L814.35,460.30 L815.37,461.15 L816.40,461.99 L817.43,462.84 L818.46,463.69 L819.49,464.54 L820.52,465.39 L821.55,466.24 L822.58,467.08 L823.61,467.93 L824.64,468.78 L825.67,469.63 L826.70,470.48 L827.73,471.33 L828.76,472.18 L829.79,473.02 L830.82,473.87 L831.85,474.72 L832.88,475.57 L833.91,476.42 L834.93,477.27 L835.96,478.11 L836.99,478.96 L838.02,479.81 L839.05,480.66 L840.08,481.51 L841.11,482.36 L842.14,483.20 L843.17,484.05 L844.20,484.90" fill="none" stroke="#0000ff" stroke-width="3.9" stroke-linejoin="round"/>
<path d="M124.60,192.00 L125.63,192.02 L126.66,192.03 L127.69,192.05 L128.72,192.06 L129.75,192.08 L130.78,192.10 L131.81,192.11 L132.84,192.13 L133.87,192.15 L134.89,192.17 L135.92,192.19 L136.95,192.20 L137.98,192.22 L139.01,192.24 L140.04,192.26 L141.07,192.28 L142.10,192.30 L143.13,192.32 L144.16,192.34 L145.19,192.36 L146.22,192.38 L147.25,192.40 L148.28,192.42 L149.31,192.44 L150.34,192.46 L151.37,192.48 L152.40,192.51 L153.43,192.53 L154.45,192.55 L155.48,192.57 L156.51,192.60 L157.54,192.62 L158.57,192.64 L159.60,192.67 L160.63,192.69 L161.66,192.72 L162.69,192.74 L163.72,192.77 L164.75,192.79 L165.78,192.82 L166.81,192.85 L167.84,192.87 L168.87,192.90 L169.90,192.93 L170.93,192.95 L171.96,192.98 L172.99,193.01 L174.01,193.04 L175.04,193.07 L176.07,193.10 L177.10,193.13 L178.13,193.16 L179.16,193.19 L180.19,193.22 L181.22,193.25 L182.25,193.28 L183.28,193.32 L184.31,193.35 L185.34,193.38 L186.37,193.42 L187.40,193.45 L188.43,193.49 L189.46,193.52 L190.49,193.56 L191.52,193.59 L192.55,193.63 L193.57,193.66 L194.60,193.70 L195.63,193.74 L196.66,193.78 L197.69,193.82 L198.72,193.86 L199.75,193.90 L200.78,193.93 L201.81,193.96 L202.84,193.99 L203.87,194.03 L204.90,194.06 L205.93,194.10 L206.96,194.13 L207.99,194.17 L209.02,194.20 L210.05,194.24 L211.08,194.27 L212.11,194.31 L213.13,194.35 L214.16,194.39 L215.19,194.43 L216.22,194.47 L217.25,194.51 L218.28,194.55 L219.31,194.59 L220.34,194.63 L221.37,194.68 L222.40,194.72 L223.43,194.77 L224.46,194.81 L225.49,194.86 L226.52,194.90 L227.55,194.95 L228.58,195.00 L229.61,195.05 L230.64,195.10 L231.66,195.15 L232.69,195.20 L233.72,195.25 L234.75,195.30 L235.78,195.35 L236.81,195.41 L237.84,195.46 L238.87,195.52 L239.90,195.57 L240.93,195.63 L241.96,195.69 L242.99,195.75 L244.02,195.81 L245.05,195.87 L246.08,195.93 L247.11,195.99 L248.14,196.05 L249.17,196.12 L250.20,196.18 L251.22,196.25 L252.25,196.31 L253.28,196.38 L254.31,196.45 L255.34,196.52 L256.37,196.59 L257.40,196.66 L258.43,196.73 L259.46,196.81 L260.49,196.88 L261.52,196.96 L262.55,197.03 L263.58,197.11 L264.61,197.19 L265.64,197.27 L266.67,197.35 L267.70,197.43 L268.73,197.52 L269.76,197.60 L270.78,197.69 L271.81,197.77 L272.84,197.86 L273.87,197.95 L274.90,198.04 L275.93,198.13 L276.96,198.22 L277.99,198.32 L279.02,198.41 L280.05,198.51 L281.08,198.60 L282.11,198.70 L283.14,198.80 L284.17,198.90 L285.20,199.01 L286.23,199.11 L287.26,199.21 L288.29,199.32 L289.32,199.43 L290.34,199.54 L291.37,199.65 L292.40,199.76 L293.43,199.88 L294.46,199.99 L295.49,200.11 L296.52,200.23 L297.55,200.34 L298.58,200.47 L299.61,200.59 L300.64,200.71 L301.67,200.84 L302.70,200.97 L303.73,201.09 L304.76,201.22 L305.79,201.36 L306.82,201.49 L307.85,201.63 L308.88,201.76 L309.90,201.90 L310.93,202.04 L311.96,202.18 L312.99,202.33 L314.02,202.47 L315.05,202.62 L316.08,202.77 L317.11,202.92 L318.14,203.08 L319.17,203.23 L320.20,203.39 L321.23,203.55 L322.26,203.71 L323.29,203.87 L324.32,204.03 L325.35,204.20 L326.38,204.37 L327.41,204.54 L328.44,204.71 L329.46,204.89 L330.49,205.06 L331.52,205.24 L332.55,205.42 L333.58,205.60 L334.61,205.79 L335.64,205.98 L336.67,206.16 L337.70,206.36 L338.73,206.55 L339.76,206.75 L340.79,206.94 L341.82,207.14 L342.85,207.35 L343.88,207.55 L344.91,207.76 L345.94,207.97 L346.97,208.18 L348.00,208.39 L349.02,208.61 L350.05,208.83 L351.08,209.05 L352.11,209.28 L353.14,209.50 L354.17,209.73 L355.20,209.96 L356.23,210.20 L357.26,210.43 L358.29,210.67 L359.32,210.92 L360.35,211.16 L361.38,211.41 L362.41,211.66 L363.44,211.91 L364.47,212.16 L365.50,212.42 L366.53,212.68 L367.56,212.95 L368.58,213.21 L369.61,213.48 L370.64,213.75 L371.67,214.03 L372.70,214.31 L373.73,214.59 L374.76,214.87 L375.79,215.16 L376.82,215.45 L377.85,215.74 L378.88,216.03 L379.91,216.33 L380.94,216.63 L381.97,216.94 L383.00,217.24 L384.03,217.55 L385.06,217.87 L386.09,218.18 L387.12,218.50 L388.14,218.83 L389.17,219.15 L390.20,219.48 L391.23,219.81 L392.26,220.15 L393.29,220.49 L394.32,220.83 L395.35,221.17 L396.38,221.52 L397.41,221.87 L398.44,222.23 L399.47,222.59 L400.50,222.95 L401.53,223.33 L402.56,223.71 L403.59,224.09 L404.62,224.47 L405.65,224.86 L406.67,225.25 L407.70,225.64 L408.73,226.04 L409.76,226.44 L410.79,226.85 L411.82,227.25 L412.85,227.67 L413.88,228.08 L414.91,228.50 L415.94,228.92 L416.97,229.35 L418.00,229.78 L419.03,230.21 L420.06,230.64 L421.09,231.08 L422.12,231.53 L423.15,231.97 L424.18,232.43 L425.21,232.88 L426.23,233.34 L427.26,233.80 L428.29,234.26 L429.32,234.73 L430.35,235.20 L431.38,235.68 L432.41,236.16 L433.44,236.64 L434.47,237.13 L435.50,237.62 L436.53,238.11 L437.56,238.61 L438.59,239.11 L439.62,239.62 L440.65,240.12 L441.68,240.64 L442.71,241.15 L443.74,241.67 L444.77,242.19 L445.79,242.72 L446.82,243.25 L447.85,243.78 L448.88,244.32 L449.91,244.86 L450.94,245.40 L451.97,245.95 L453.00,246.50 L454.03,247.06 L455.06,247.62 L456.09,248.18 L457.12,248.74 L458.15,249.31 L459.18,249.88 L460.21,250.46 L461.24,251.04 L462.27,251.62 L463.30,252.21 L464.33,252.79 L465.35,253.39 L466.38,253.98 L467.41,254.58 L468.44,255.18 L469.47,255.79 L470.50,256.40 L471.53,257.01 L472.56,257.63 L473.59,258.25 L474.62,258.87 L475.65,259.49 L476.68,260.12 L477.71,260.75 L478.74,261.39 L479.77,262.02 L480.80,262.66 L481.83,263.31 L482.86,263.95 L483.89,264.60 L484.91,265.25 L485.94,265.91 L486.97,266.57 L488.00,267.23 L489.03,267.89 L490.06,268.56 L491.09,269.23 L492.12,269.90 L493.15,270.58 L494.18,271.25 L495.21,271.93 L496.24,272.62 L497.27,273.30 L498.30,273.99 L499.33,274.68 L500.36,275.37 L501.39,276.07 L502.42,276.77 L503.45,277.47 L504.47,278.17 L505.50,278.88 L506.53,279.58 L507.56,280.29 L508.59,281.01 L509.62,281.72 L510.65,282.44 L511.68,283.16 L512.71,283.88 L513.74,284.60 L514.77,285.33 L515.80,286.05 L516.83,286.78 L517.86,287.51 L518.89,288.25 L519.92,288.98 L520.95,289.72 L521.98,290.46 L523.01,291.20 L524.03,291.94 L525.06,292.69 L526.09,293.44 L527.12,294.18 L528.15,294.93 L529.18,295.69 L530.21,296.44 L531.24,297.20 L532.27,297.95 L533.30,298.71 L534.33,299.47 L535.36,300.23 L536.39,301.00 L537.42,301.76 L538.45,302.53 L539.48,303.30 L540.51,304.07 L541.54,304.84 L542.57,305.61 L543.59,306.38 L544.62,307.16 L545.65,307.93 L546.68,308.71 L547.71,309.49 L548.74,310.27 L549.77,311.05 L550.80,311.84 L551.83,312.62 L552.86,313.41 L553.89,314.19 L554.92,314.98 L555.95,315.77 L556.98,316.56 L558.01,317.35 L559.04,318.14 L560.07,318.93 L561.10,319.73 L562.13,320.52 L563.15,321.32 L564.18,322.12 L565.21,322.91 L566.24,323.71 L567.27,324.51 L568.30,325.31 L569.33,326.12 L570.36,326.92 L571.39,327.72 L572.42,328.53 L573.45,329.33 L574.48,330.14 L575.51,330.95 L576.54,331.75 L577.57,332.56 L578.60,333.37 L579.63,334.18 L580.66,334.99 L581.68,335.80 L582.71,336.62 L583.74,337.43 L584.77,338.24 L585.80,339.06 L586.83,339.87 L587.86,340.69 L588.89,341.51 L589.92,342.32 L590.95,343.14 L591.98,343.96 L593.01,344.78 L594.04,345.60 L595.07,346.42 L596.10,347.24 L597.13,348.06 L598.16,348.88 L599.19,349.70 L600.22,350.53 L601.24,351.35 L602.27,352.18 L603.30,353.00 L604.33,353.82 L605.36,354.65 L606.39,355.48 L607.42,356.30 L608.45,357.13 L609.48,357.96 L610.51,358.78 L611.54,359.61 L612.57,360.44 L613.60,361.27 L614.63,362.10 L615.66,362.93 L616.69,363.76 L617.72,364.59 L618.75,365.42 L619.78,366.25 L620.80,367.08 L621.83,367.92 L622.86,368.75 L623.89,369.58 L624.92,370.42 L625.95,371.25 L626.98,372.08 L628.01,372.92 L629.04,373.75 L630.07,374.59 L631.10,375.42 L632.13,376.26 L633.16,377.09 L634.19,377.93 L635.22,378.76 L636.25,379.60 L637.28,380.44 L638.31,381.27 L639.34,382.11 L640.36,382.95 L641.39,383.79 L642.42,384.63 L643.45,385.46 L644.48,386.30 L645.51,387.14 L646.54,387.98 L647.57,388.82 L648.60,389.66 L649.63,390.50 L650.66,391.34 L651.69,392.18 L652.72,393.02 L653.75,393.86 L654.78,394.70 L655.81,395.54 L656.84,396.38 L657.87,397.22 L658.90,398.06 L659.92,398.90 L660.95,399.75 L661.98,400.59 L663.01,401.43 L664.04,402.27 L665.07,403.11 L666.10,403.96 L667.13,404.80 L668.16,405.64 L669.19,406.48 L670.22,407.33 L671.25,408.17 L672.28,409.01 L673.31,409.85 L674.34,410.70 L675.37,411.54 L676.40,412.39 L677.43,413.23 L678.46,414.07 L679.48,414.92 L680.51,415.76 L681.54,416.60 L682.57,417.45 L683.60,418.29 L684.63,419.14 L685.66,419.98 L686.69,420.83 L687.72,421.67 L688.75,422.52 L689.78,423.36 L690.81,424.21 L691.84,425.05 L692.87,425.90 L693.90,426.74 L694.93,427.59 L695.96,428.43 L696.99,429.28 L698.02,430.12 L699.04,430.97 L700.07,431.81 L701.10,432.66 L702.13,433.51 L703.16,434.35 L704.19,435.20 L705.22,436.04 L706.25,436.89 L707.28,437.73 L708.31,438.58 L709.34,439.43 L710.37,440.27 L711.40,441.12 L712.43,441.97 L713.46,442.81 L714.49,443.66 L715.52,444.50 L716.55,445.35 L717.58,446.20 L718.60,447.04 L719.63,447.89 L720.66,448.74 L721.69,449.58 L722.72,450.43 L723.75,451.28 L724.78,452.12 L725.81,452.97 L726.84,453.82 L727.87,454.66 L728.90,455.51 L729.93,456.36 L730.96,457.21 L731.99,458.05 L733.02,458.90 L734.05,459.75 L735.08,460.59 L736.11,461.44 L737.14,462.29 L738.16,463.14 L739.19,463.98 L740.22,464.83 L741.25,465.68 L742.28,466.52 L743.31,467.37 L744.34,468.22 L745.37,469.07 L746.40,469.91 L747.43,470.76 L748.46,471.61 L749.49,472.46 L750.52,473.30 L751.55,474.15 L752.58,475.00 L753.61,475.85 L754.64,476.69 L755.67,477.54 L756.69,478.39 L757.72,479.24 L758.75,480.08 L759.78,480.93 L760.81,481.78 L761.84,482.63 L762.87,483.47 L763.90,484.32 L764.93,485.17 L765.96,486.02 L766.99,486.86 L768.02,487.71 L769.05,488.56 L770.08,489.41 L771.11,490.26 L772.14,491.10 L773.17,491.95 L774.20,492.80 L775.23,493.65 L776.25,494.49 L777.28,495.34 L778.31,496.19 L779.34,497.04 L780.37,497.89 L781.40,498.73 L782.43,499.58 L783.46,500.43 L784.49,501.28 L785.52,502.12 L786.55,502.97 L787.58,503.82 L788.61,504.67 L789.64,505.52 L790.67,506.36 L791.70,507.21 L792.73,508.06 L793.76,508.91 L794.79,509.76 L795.81,510.60 L796.84,511.45 L797.87,512.30 L798.90,513.15 L799.93,514.00 L800.96,514.84 L801.99,515.69 L803.02,516.54 L804.05,517.39 L805.08,518.24 L806.11,519.08 L807.14,519.93 L808.17,520.78 L809.20,521.63 L810.23,522.48 L811.26,523.32 L812.29,524.17 L813.32,525.02 L814.35,525.87 L815.37,526.72 L816.40,527.56 L817.43,528.41 L818.46,529.26 L819.49,530.11 L820.52,530.96 L821.55,531.80 L822.58,532.65 L823.61,533.50 L824.64,534.35 L825.67,535.20 L826.70,536.04 L827.73,536.89 L828.76,537.74 L829.79,538.59 L830.82,539.44 L831.85,540.28 L832.88,541.13 L833.91,541.98 L834.93,542.83 L835.96,543.68 L836.99,544.52 L838.02,545.37 L839.05,546.22 L840.08,547.07 L841.11,547.92 L842.14,548.76 L843.17,549.61 L844.20,550.46" fill="none" stroke="#0000ff" stroke-width="3.9" stroke-linejoin="round"/>
<path d="M124.60,295.78 L125.63,295.78 L126.66,295.78 L127.69,295.78 L128.72,295.78 L129.75,295.78 L130.78,295.78 L131.81,295.78 L132.84,295.78 L133.87,295.78 L134.89,295.78 L135.92,295.78 L136.95,295.78 L137.98,295.78 L139.01,295.78 L140.04,295.78 L141.07,295.78 L142.10,295.78 L143.13,295.78 L144.16,295.78 L145.19,295.78 L146.22,295.78 L147.25,295.78 L148.28,295.78 L149.31,295.78 L150.34,295.78 L151.37,295.78 L152.40,295.78 L153.43,295.78 L154.45,295.78 L155.48,295.78 L156.51,295.78 L157.54,295.78 L158.57,295.78 L159.60,295.78 L160.63,295.78 L161.66,295.78 L162.69,295.78 L163.72,295.78 L164.75,295.78 L165.78,295.78 L166.81,295.78 L167.84,295.78 L168.87,295.78 L169.90,295.78 L170.93,295.78 L171.96,295.78 L172.99,295.78 L174.01,295.78 L175.04,295.78 L176.07,295.78 L177.10,295.78 L178.13,295.78 L179.16,295.78 L180.19,295.78 L181.22,295.78 L182.25,295.77 L183.28,295.77 L184.31,295.77 L185.34,295.77 L186.37,295.77 L187.40,295.77 L188.43,295.77 L189.46,295.77 L190.49,295.77 L191.52,295.77 L192.55,295.77 L193.57,295.77 L194.60,295.77 L195.63,295.77 L196.66,295.77 L197.69,295.77 L198.72,295.77 L199.75,295.77 L200.78,295.77 L201.81,295.77 L202.84,295.77 L203.87,295.77 L204.90,295.77 L205.93,295.77 L206.96,295.77 L207.99,295.77 L209.02,295.77 L210.05,295.77 L211.08,295.77 L212.11,295.77 L213.13,295.77 L214.16,295.77 L215.19,295.77 L216.22,295.77 L217.25,295.77 L218.28,295.77 L219.31,295.77 L220.34,295.77 L221.37,295.77 L222.40,295.77 L223.43,295.77 L224.46,295.76 L225.49,295.76 L226.52,295.76 L227.55,295.76 L228.58,295.76 L229.61,295.76 L230.64,295.76 L231.66,295.76 L232.69,295.76 L233.72,295.76 L234.75,295.76 L235.78,295.76 L236.81,295.76 L237.84,295.76 L238.87,295.76 L239.90,295.76 L240.93,295.76 L241.96,295.76 L242.99,295.76 L244.02,295.76 L245.05,295.76 L246.08,295.76 L247.11,295.76 L248.14,295.76 L249.17,295.76 L250.20,295.76 L251.22,295.76 L252.25,295.76 L253.28,295.76 L254.31,295.75 L255.34,295.75 L256.37,295.75 L257.40,295.75 L258.43,295.75 L259.46,295.75 L260.49,295.75 L261.52,295.75 L262.55,295.75 L263.58,295.75 L264.61,295.75 L265.64,295.75 L266.67,295.75 L267.70,295.75 L268.73,295.75 L269.76,295.75 L270.78,295.75 L271.81,295.75 L272.84,295.75 L273.87,295.75 L274.90,295.75 L275.93,295.75 L276.96,295.74 L277.99,295.74 L279.02,295.74 L280.05,295.74 L281.08,295.74 L282.11,295.74 L283.14,295.74 L284.17,295.74 L285.20,295.74 L286.23,295.74 L287.26,295.74 L288.29,295.74 L289.32,295.74 L290.34,295.74 L291.37,295.74 L292.40,295.74 L293.43,295.74 L294.46,295.74 L295.49,295.73 L296.52,295.73 L297.55,295.73 L298.58,295.73 L299.61,295.73 L300.64,295.73 L301.67,295.73 L302.70,295.73 L303.73,295.73 L304.76,295.73 L305.79,295.73 L306.82,295.73 L307.85,295.73 L308.88,295.73 L309.90,295.73 L310.93,295.73 L311.96,295.72 L312.99,295.72 L314.02,295.72 L315.05,295.72 L316.08,295.72 L317.11,295.72 L318.14,295.72 L319.17,295.72 L320.20,295.72 L321.23,295.72 L322.26,295.72 L323.29,295.72 L324.32,295.72 L325.35,295.72 L326.38,295.72 L327.41,295.71 L328.44,295.71 L329.46,295.71 L330.49,295.71 L331.52,295.71 L332.55,295.71 L333.58,295.71 L334.61,295.71 L335.64,295.71 L336.67,295.71 L337.70,295.71 L338.73,295.71 L339.76,295.71 L340.79,295.71 L341.82,295.71 L342.85,295.70 L343.88,295.70 L344.91,295.70 L345.94,295.70 L346.97,295.70 L348.00,295.70 L349.02,295.70 L350.05,295.70 L351.08,295.70 L352.11,295.70 L353.14,295.70 L354.17,295.70 L355.20,295.70 L356.23,295.70 L357.26,295.70 L358.29,295.70 L359.32,295.69 L360.35,295.69 L361.38,295.69 L362.41,295.69 L363.44,295.69 L364.47,295.69 L365.50,295.69 L366.53,295.69 L367.56,295.69 L368.58,295.69 L369.61,295.69 L370.64,295.69 L371.67,295.69 L372.70,295.69 L373.73,295.69 L374.76,295.69 L375.79,295.69 L376.82,295.69 L377.85,295.69 L378.88,295.69 L379.91,295.69 L380.94,295.69 L381.97,295.69 L383.00,295.69 L384.03,295.69 L385.06,295.69 L386.09,295.69 L387.12,295.69 L388.14,295.69 L389.17,295.69 L390.20,295.69 L391.23,295.69 L392.26,295.69 L393.29,295.69 L394.32,295.69 L395.35,295.69 L396.38,295.69 L397.41,295.69 L398.44,295.69 L399.47,295.69 L400.50,295.69 L401.53,295.69 L402.56,295.69 L403.59,295.69 L404.62,295.70 L405.65,295.70 L406.67,295.70 L407.70,295.70 L408.73,295.70 L409.76,295.70 L410.79,295.70 L411.82,295.70 L412.85,295.71 L413.88,295.71 L414.91,295.71 L415.94,295.71 L416.97,295.71 L418.00,295.72 L419.03,295.72 L420.06,295.72 L421.09,295.72 L422.12,295.72 L423.15,295.73 L424.18,295.73 L425.21,295.73 L426.23,295.74 L427.26,295.74 L428.29,295.74 L429.32,295.75 L430.35,295.75 L431.38,295.75 L432.41,295.76 L433.44,295.76 L434.47,295.77 L435.50,295.77 L436.53,295.78 L437.56,295.78 L438.59,295.79 L439.62,295.79 L440.65,295.79 L441.68,295.79 L442.71,295.79 L443.74,295.79 L444.77,295.79 L445.79,295.79 L446.82,295.79 L447.85,295.79 L448.88,295.79 L449.91,295.80 L450.94,295.80 L451.97,295.80 L453.00,295.80 L454.03,295.80 L455.06,295.81 L456.09,295.81 L457.12,295.81 L458.15,295.82 L459.18,295.82 L460.21,295.83 L461.24,295.83 L462.27,295.84 L463.30,295.84 L464.33,295.85 L465.35,295.86 L466.38,295.86 L467.41,295.87 L468.44,295.88 L469.47,295.89 L470.50,295.90 L471.53,295.90 L472.56,295.91 L473.59,295.93 L474.62,295.94 L475.65,295.95 L476.68,295.96 L477.71,295.97 L478.74,295.99 L479.77,296.00 L480.80,296.02 L481.83,296.03 L482.86,296.05 L483.89,296.06 L484.91,296.08 L485.94,296.10 L486.97,296.12 L488.00,296.14 L489.03,296.16 L490.06,296.18 L491.09,296.20 L492.12,296.23 L493.15,296.25 L494.18,296.27 L495.21,296.30 L496.24,296.33 L497.27,296.35 L498.30,296.38 L499.33,296.41 L500.36,296.44 L501.39,296.48 L502.42,296.51 L503.45,296.54 L504.47,296.58 L505.50,296.62 L506.53,296.65 L507.56,296.69 L508.59,296.73 L509.62,296.78 L510.65,296.82 L511.68,296.86 L512.71,296.91 L513.74,296.96 L514.77,297.01 L515.80,297.06 L516.83,297.11 L517.86,297.16 L518.89,297.22 L519.92,297.27 L520.95,297.34 L521.98,297.41 L523.01,297.47 L524.03,297.55 L525.06,297.62 L526.09,297.69 L527.12,297.77 L528.15,297.85 L529.18,297.93 L530.21,298.01 L531.24,298.10 L532.27,298.18 L533.30,298.27 L534.33,298.36 L535.36,298.46 L536.39,298.55 L537.42,298.65 L538.45,298.75 L539.48,298.86 L540.51,298.96 L541.54,299.07 L542.57,299.19 L543.59,299.30 L544.62,299.42 L545.65,299.54 L546.68,299.66 L547.71,299.79 L548.74,299.92 L549.77,300.05 L550.80,300.19 L551.83,300.32 L552.86,300.47 L553.89,300.61 L554.92,300.76 L555.95,300.91 L556.98,301.07 L558.01,301.23 L559.04,301.39 L560.07,301.56 L561.10,301.73 L562.13,301.90 L563.15,302.08 L564.18,302.26 L565.21,302.45 L566.24,302.64 L567.27,302.83 L568.30,303.03 L569.33,303.23 L570.36,303.44 L571.39,303.65 L572.42,303.87 L573.45,304.09 L574.48,304.31 L575.51,304.54 L576.54,304.78 L577.57,305.01 L578.60,305.26 L579.63,305.50 L580.66,305.76 L581.68,306.02 L582.71,306.28 L583.74,306.55 L584.77,306.82 L585.80,307.10 L586.83,307.38 L587.86,307.67 L588.89,307.96 L589.92,308.26 L590.95,308.56 L591.98,308.87 L593.01,309.18 L594.04,309.50 L595.07,309.83 L596.10,310.16 L597.13,310.50 L598.16,310.84 L599.19,311.18 L600.22,311.54 L601.24,311.89 L602.27,312.26 L603.30,312.63 L604.33,313.00 L605.36,313.38 L606.39,313.77 L607.42,314.16 L608.45,314.56 L609.48,314.96 L610.51,315.37 L611.54,315.79 L612.57,316.21 L613.60,316.63 L614.63,317.07 L615.66,317.50 L616.69,317.95 L617.72,318.40 L618.75,318.85 L619.78,319.31 L620.80,319.78 L621.83,320.25 L622.86,320.73 L623.89,321.21 L624.92,321.70 L625.95,322.19 L626.98,322.69 L628.01,323.20 L629.04,323.71 L630.07,324.22 L631.10,324.74 L632.13,325.27 L633.16,325.80 L634.19,326.34 L635.22,326.88 L636.25,327.43 L637.28,327.98 L638.31,328.54 L639.34,329.10 L640.36,329.67 L641.39,330.24 L642.42,330.82 L643.45,331.40 L644.48,331.99 L645.51,332.58 L646.54,333.18 L647.57,333.78 L648.60,334.39 L649.63,335.00 L650.66,335.61 L651.69,336.23 L652.72,336.86 L653.75,337.49 L654.78,338.12 L655.81,338.76 L656.84,339.40 L657.87,340.04 L658.90,340.69 L659.92,341.35 L660.95,342.00 L661.98,342.67 L663.01,343.33 L664.04,344.00 L665.07,344.67 L666.10,345.35 L667.13,346.03 L668.16,346.71 L669.19,347.40 L670.22,348.09 L671.25,348.78 L672.28,349.48 L673.31,350.18 L674.34,350.88 L675.37,351.59 L676.40,352.30 L677.43,353.01 L678.46,353.73 L679.48,354.45 L680.51,355.17 L681.54,355.90 L682.57,356.62 L683.60,357.35 L684.63,358.09 L685.66,358.82 L686.69,359.56 L687.72,360.30 L688.75,361.04 L689.78,361.79 L690.81,362.53 L691.84,363.28 L692.87,364.04 L693.90,364.79 L694.93,365.55 L695.96,366.31 L696.99,367.07 L698.02,367.83 L699.04,368.60 L700.07,369.36 L701.10,370.13 L702.13,370.90 L703.16,371.67 L704.19,372.45 L705.22,373.22 L706.25,374.00 L707.28,374.78 L708.31,375.56 L709.34,376.35 L710.37,377.13 L711.40,377.92 L712.43,378.70 L713.46,379.49 L714.49,380.28 L715.52,381.07 L716.55,381.87 L717.58,382.66 L718.60,383.46 L719.63,384.25 L720.66,385.05 L721.69,385.85 L722.72,386.65 L723.75,387.46 L724.78,388.26 L725.81,389.06 L726.84,389.87 L727.87,390.67 L728.90,391.48 L729.93,392.29 L730.96,393.10 L731.99,393.91 L733.02,394.72 L734.05,395.53 L735.08,396.35 L736.11,397.16 L737.14,397.97 L738.16,398.79 L739.19,399.61 L740.22,400.42 L741.25,401.24 L742.28,402.06 L743.31,402.88 L744.34,403.70 L745.37,404.52 L746.40,405.34 L747.43,406.16 L748.46,406.99 L749.49,407.81 L750.52,408.64 L751.55,409.46 L752.58,410.29 L753.61,411.11 L754.64,411.94 L755.67,412.77 L756.69,413.59 L757.72,414.42 L758.75,415.25 L759.78,416.08 L760.81,416.91 L761.84,417.74 L762.87,418.57 L763.90,419.40 L764.93,420.23 L765.96,421.06 L766.99,421.90 L768.02,422.73 L769.05,423.56 L770.08,424.39 L771.11,425.23 L772.14,426.06 L773.17,426.90 L774.20,427.73 L775.23,428.57 L776.25,429.40 L777.28,430.24 L778.31,431.08 L779.34,431.91 L780.37,432.75 L781.40,433.59 L782.43,434.42 L783.46,435.26 L784.49,436.10 L785.52,436.94 L786.55,437.78 L787.58,438.61 L788.61,439.45 L789.64,440.29 L790.67,441.13 L791.70,441.97 L792.73,442.81 L793.76,443.65 L794.79,444.49 L795.81,445.33 L796.84,446.17 L797.87,447.01 L798.90,447.86 L799.93,448.70 L800.96,449.54 L801.99,450.38 L803.02,451.22 L804.05,452.06 L805.08,452.91 L806.11,453.75 L807.14,454.59 L808.17,455.43 L809.20,456.28 L810.23,457.12 L811.26,457.96 L812.29,458.80 L813.32,459.65 L814.35,460.49 L815.37,461.33 L816.40,462.18 L817.43,463.02 L818.46,463.87 L819.49,464.71 L820.52,465.55 L821.55,466.40 L822.58,467.24 L823.61,468.09 L824.64,468.93 L825.67,469.78 L826.70,470.62 L827.73,471.47 L828.76,472.31 L829.79,473.15 L830.82,474.00 L831.85,474.85 L832.88,475.69 L833.91,476.54 L834.93,477.38 L835.96,478.23 L836.99,479.07 L838.02,479.92 L839.05,480.76 L840.08,481.61 L841.11,482.45 L842.14,483.30 L843.17,484.15 L844.20,484.99 L844.20,550.54 L843.17,549.69 L842.14,548.85 L841.11,548.00 L840.08,547.15 L839.05,546.31 L838.02,545.46 L836.99,544.62 L835.96,543.77 L834.93,542.93 L833.91,542.08 L832.88,541.24 L831.85,540.39 L830.82,539.54 L829.79,538.70 L828.76,537.85 L827.73,537.01 L826.70,536.16 L825.67,535.32 L824.64,534.48 L823.61,533.63 L822.58,532.79 L821.55,531.94 L820.52,531.10 L819.49,530.25 L818.46,529.41 L817.43,528.56 L816.40,527.72 L815.37,526.88 L814.35,526.03 L813.32,525.19 L812.29,524.35 L811.26,523.50 L810.23,522.66 L809.20,521.82 L808.17,520.97 L807.14,520.13 L806.11,519.29 L805.08,518.45 L804.05,517.60 L803.02,516.76 L801.99,515.92 L800.96,515.08 L799.93,514.23 L798.90,513.39 L797.87,512.55 L796.84,511.71 L795.81,510.87 L794.79,510.03 L793.76,509.19 L792.73,508.35 L791.70,507.51 L790.67,506.67 L789.64,505.83 L788.61,504.99 L787.58,504.15 L786.55,503.31 L785.52,502.47 L784.49,501.63 L783.46,500.79 L782.43,499.95 L781.40,499.12 L780.37,498.28 L779.34,497.44 L778.31,496.60 L777.28,495.77 L776.25,494.93 L775.23,494.10 L774.20,493.26 L773.17,492.42 L772.14,491.59 L771.11,490.75 L770.08,489.92 L769.05,489.09 L768.02,488.25 L766.99,487.42 L765.96,486.58 L764.93,485.75 L763.90,484.92 L762.87,484.09 L761.84,483.26 L760.81,482.43 L759.78,481.60 L758.75,480.77 L757.72,479.94 L756.69,479.11 L755.67,478.28 L754.64,477.45 L753.61,476.62 L752.58,475.80 L751.55,474.97 L750.52,474.14 L749.49,473.32 L748.46,472.49 L747.43,471.67 L746.40,470.85 L745.37,470.02 L744.34,469.20 L743.31,468.38 L742.28,467.56 L741.25,466.74 L740.22,465.92 L739.19,465.10 L738.16,464.28 L737.14,463.46 L736.11,462.65 L735.08,461.83 L734.05,461.02 L733.02,460.20 L731.99,459.39 L730.96,458.58 L729.93,457.77 L728.90,456.96 L727.87,456.15 L726.84,455.34 L725.81,454.53 L724.78,453.73 L723.75,452.92 L722.72,452.12 L721.69,451.32 L720.66,450.51 L719.63,449.71 L718.60,448.91 L717.58,448.12 L716.55,447.32 L715.52,446.52 L714.49,445.73 L713.46,444.94 L712.43,444.14 L711.40,443.35 L710.37,442.56 L709.34,441.78 L708.31,440.99 L707.28,440.21 L706.25,439.42 L705.22,438.64 L704.19,437.86 L703.16,437.09 L702.13,436.31 L701.10,435.54 L700.07,434.76 L699.04,433.99 L698.02,433.22 L696.99,432.46 L695.96,431.69 L694.93,430.93 L693.90,430.17 L692.87,429.41 L691.84,428.65 L690.81,427.90 L689.78,427.15 L688.75,426.40 L687.72,425.65 L686.69,424.90 L685.66,424.16 L684.63,423.42 L683.60,422.68 L682.57,421.95 L681.54,421.21 L680.51,420.48 L679.48,419.76 L678.46,419.03 L677.43,418.31 L676.40,417.59 L675.37,416.87 L674.34,416.16 L673.31,415.45 L672.28,414.74 L671.25,414.04 L670.22,413.34 L669.19,412.64 L668.16,411.95 L667.13,411.26 L666.10,410.57 L665.07,409.88 L664.04,409.20 L663.01,408.53 L661.98,407.85 L660.95,407.18 L659.92,406.52 L658.90,405.85 L657.87,405.20 L656.84,404.54 L655.81,403.89 L654.78,403.24 L653.75,402.60 L652.72,401.96 L651.69,401.33 L650.66,400.70 L649.63,400.07 L648.60,399.45 L647.57,398.83 L646.54,398.22 L645.51,397.61 L644.48,397.01 L643.45,396.41 L642.42,395.82 L641.39,395.23 L640.36,394.64 L639.34,394.06 L638.31,393.49 L637.28,392.92 L636.25,392.35 L635.22,391.79 L634.19,391.24 L633.16,390.69 L632.13,390.14 L631.10,389.60 L630.07,389.07 L629.04,388.54 L628.01,388.01 L626.98,387.49 L625.95,386.98 L624.92,386.47 L623.89,385.97 L622.86,385.47 L621.83,384.97 L620.80,384.49 L619.78,384.01 L618.75,383.53 L617.72,383.06 L616.69,382.59 L615.66,382.13 L614.63,381.68 L613.60,381.23 L612.57,380.79 L611.54,380.35 L610.51,379.92 L609.48,379.49 L608.45,379.07 L607.42,378.65 L606.39,378.24 L605.36,377.84 L604.33,377.44 L603.30,377.05 L602.27,376.66 L601.24,376.28 L600.22,375.90 L599.19,375.53 L598.16,375.16 L597.13,374.80 L596.10,374.45 L595.07,374.10 L594.04,373.75 L593.01,373.41 L591.98,373.08 L590.95,372.75 L589.92,372.43 L588.89,372.11 L587.86,371.80 L586.83,371.49 L585.80,371.19 L584.77,370.89 L583.74,370.60 L582.71,370.31 L581.68,370.02 L580.66,369.75 L579.63,369.47 L578.60,369.21 L577.57,368.94 L576.54,368.68 L575.51,368.43 L574.48,368.18 L573.45,367.93 L572.42,367.69 L571.39,367.46 L570.36,367.23 L569.33,367.00 L568.30,366.77 L567.27,366.56 L566.24,366.34 L565.21,366.13 L564.18,365.92 L563.15,365.72 L562.13,365.52 L561.10,365.33 L560.07,365.14 L559.04,364.95 L558.01,364.77 L556.98,364.59 L555.95,364.41 L554.92,364.24 L553.89,364.07 L552.86,363.91 L551.83,363.74 L550.80,363.59 L549.77,363.43 L548.74,363.28 L547.71,363.13 L546.68,362.98 L545.65,362.84 L544.62,362.70 L543.59,362.57 L542.57,362.43 L541.54,362.30 L540.51,362.17 L539.48,362.05 L538.45,361.93 L537.42,361.81 L536.39,361.69 L535.36,361.57 L534.33,361.46 L533.30,361.35 L532.27,361.24 L531.24,361.14 L530.21,361.04 L529.18,360.94 L528.15,360.84 L527.12,360.74 L526.09,360.65 L525.06,360.56 L524.03,360.47 L523.01,360.38 L521.98,360.30 L520.95,360.21 L519.92,360.13 L518.89,360.05 L517.86,359.97 L516.83,359.90 L515.80,359.82 L514.77,359.75 L513.74,359.68 L512.71,359.61 L511.68,359.54 L510.65,359.48 L509.62,359.41 L508.59,359.35 L507.56,359.29 L506.53,359.23 L505.50,359.17 L504.47,359.11 L503.45,359.05 L502.42,359.00 L501.39,358.95 L500.36,358.89 L499.33,358.84 L498.30,358.79 L497.27,358.74 L496.24,358.70 L495.21,358.65 L494.18,358.61 L493.15,358.56 L492.12,358.52 L491.09,358.48 L490.06,358.43 L489.03,358.39 L488.00,358.36 L486.97,358.32 L485.94,358.28 L484.91,358.24 L483.89,358.21 L482.86,358.17 L481.83,358.14 L480.80,358.11 L479.77,358.07 L478.74,358.04 L477.71,358.01 L476.68,357.98 L475.65,357.95 L474.62,357.92 L473.59,357.89 L472.56,357.87 L471.53,357.84 L470.50,357.81 L469.47,357.79 L468.44,357.76 L467.41,357.74 L466.38,357.72 L465.35,357.69 L464.33,357.67 L463.30,357.65 L462.27,357.63 L461.24,357.61 L460.21,357.59 L459.18,357.57 L458.15,357.55 L457.12,357.53 L456.09,357.51 L455.06,357.49 L454.03,357.47 L453.00,357.45 L451.97,357.44 L450.94,357.42 L449.91,357.41 L448.88,357.39 L447.85,357.37 L446.82,357.36 L445.79,357.34 L444.77,357.33 L443.74,357.32 L442.71,357.30 L441.68,357.29 L440.65,357.28 L439.62,357.26 L438.59,357.25 L437.56,357.24 L436.53,357.23 L435.50,357.22 L434.47,357.20 L433.44,357.19 L432.41,357.18 L431.38,357.17 L430.35,357.16 L429.32,357.15 L428.29,357.14 L427.26,357.13 L426.23,357.12 L425.21,357.11 L424.18,357.11 L423.15,357.10 L422.12,357.09 L421.09,357.08 L420.06,357.07 L419.03,357.06 L418.00,357.06 L416.97,357.05 L415.94,357.04 L414.91,357.03 L413.88,357.03 L412.85,357.02 L411.82,357.01 L410.79,357.01 L409.76,357.00 L408.73,356.99 L407.70,356.99 L406.67,356.98 L405.65,356.98 L404.62,356.97 L403.59,356.97 L402.56,356.96 L401.53,356.95 L400.50,356.95 L399.47,356.94 L398.44,356.94 L397.41,356.93 L396.38,356.93 L395.35,356.92 L394.32,356.92 L393.29,356.92 L392.26,356.91 L391.23,356.91 L390.20,356.90 L389.17,356.90 L388.14,356.90 L387.12,356.89 L386.09,356.89 L385.06,356.88 L384.03,356.88 L383.00,356.88 L381.97,356.87 L380.94,356.87 L379.91,356.87 L378.88,356.86 L377.85,356.86 L376.82,356.86 L375.79,356.85 L374.76,356.85 L373.73,356.85 L372.70,356.85 L371.67,356.84 L370.64,356.84 L369.61,356.84 L368.58,356.83 L367.56,356.83 L366.53,356.83 L365.50,356.83 L364.47,356.82 L363.44,356.82 L362.41,356.82 L361.38,356.82 L360.35,356.82 L359.32,356.81 L358.29,356.81 L357.26,356.81 L356.23,356.81 L355.20,356.81 L354.17,356.80 L353.14,356.80 L352.11,356.80 L351.08,356.80 L350.05,356.80 L349.02,356.79 L348.00,356.79 L346.97,356.79 L345.94,356.79 L344.91,356.79 L343.88,356.79 L342.85,356.79 L341.82,356.78 L340.79,356.78 L339.76,356.78 L338.73,356.78 L337.70,356.78 L336.67,356.78 L335.64,356.78 L334.61,356.77 L333.58,356.77 L332.55,356.77 L331.52,356.77 L330.49,356.77 L329.46,356.77 L328.44,356.77 L327.41,356.77 L326.38,356.76 L325.35,356.76 L324.32,356.76 L323.29,356.76 L322.26,356.76 L321.23,356.76 L320.20,356.76 L319.17,356.76 L318.14,356.76 L317.11,356.76 L316.08,356.76 L315.05,356.75 L314.02,356.75 L312.99,356.75 L311.96,356.75 L310.93,356.75 L309.90,356.75 L308.88,356.75 L307.85,356.75 L306.82,356.75 L305.79,356.75 L304.76,356.75 L303.73,356.75 L302.70,356.75 L301.67,356.74 L300.64,356.74 L299.61,356.74 L298.58,356.74 L297.55,356.74 L296.52,356.74 L295.49,356.74 L294.46,356.74 L293.43,356.74 L292.40,356.74 L291.37,356.74 L290.34,356.74 L289.32,356.74 L288.29,356.74 L287.26,356.74 L286.23,356.74 L285.20,356.74 L284.17,356.73 L283.14,356.73 L282.11,356.73 L281.08,356.73 L280.05,356.73 L279.02,356.73 L277.99,356.73 L276.96,356.73 L275.93,356.73 L274.90,356.73 L273.87,356.73 L272.84,356.73 L271.81,356.73 L270.78,356.73 L269.76,356.73 L268.73,356.73 L267.70,356.73 L266.67,356.73 L265.64,356.73 L264.61,356.73 L263.58,356.73 L262.55,356.73 L261.52,356.73 L260.49,356.73 L259.46,356.73 L258.43,356.72 L257.40,356.72 L256.37,356.72 L255.34,356.72 L254.31,356.72 L253.28,356.72 L252.25,356.72 L251.22,356.72 L250.20,356.72 L249.17,356.72 L248.14,356.72 L247.11,356.72 L246.08,356.72 L245.05,356.72 L244.02,356.72 L242.99,356.72 L241.96,356.72 L240.93,356.72 L239.90,356.72 L238.87,356.72 L237.84,356.72 L236.81,356.72 L235.78,356.72 L234.75,356.72 L233.72,356.72 L232.69,356.72 L231.66,356.72 L230.64,356.72 L229.61,356.72 L228.58,356.72 L227.55,356.72 L226.52,356.72 L225.49,356.72 L224.46,356.72 L223.43,356.72 L222.40,356.72 L221.37,356.72 L220.34,356.72 L219.31,356.72 L218.28,356.72 L217.25,356.72 L216.22,356.72 L215.19,356.72 L214.16,356.72 L213.13,356.72 L212.11,356.72 L211.08,356.72 L210.05,356.71 L209.02,356.71 L207.99,356.71 L206.96,356.71 L205.93,356.71 L204.90,356.71 L203.87,356.71 L202.84,356.71 L201.81,356.71 L200.78,356.71 L199.75,356.71 L198.72,356.71 L197.69,356.71 L196.66,356.71 L195.63,356.71 L194.60,356.71 L193.57,356.71 L192.55,356.71 L191.52,356.71 L190.49,356.71 L189.46,356.71 L188.43,356.71 L187.40,356.71 L186.37,356.71 L185.34,356.71 L184.31,356.71 L183.28,356.71 L182.25,356.71 L181.22,356.71 L180.19,356.71 L179.16,356.71 L178.13,356.71 L177.10,356.71 L176.07,356.71 L175.04,356.71 L174.01,356.71 L172.99,356.71 L171.96,356.71 L170.93,356.71 L169.90,356.71 L168.87,356.71 L167.84,356.71 L166.81,356.71 L165.78,356.71 L164.75,356.71 L163.72,356.71 L162.69,356.71 L161.66,356.71 L160.63,356.71 L159.60,356.71 L158.57,356.71 L157.54,356.71 L156.51,356.71 L155.48,356.71 L154.45,356.71 L153.43,356.71 L152.40,356.71 L151.37,356.71 L150.34,356.71 L149.31,356.71 L148.28,356.71 L147.25,356.71 L146.22,356.71 L145.19,356.71 L144.16,356.71 L143.13,356.71 L142.10,356.71 L141.07,356.71 L140.04,356.71 L139.01,356.71 L137.98,356.71 L136.95,356.71 L135.92,356.71 L134.89,356.71 L133.87,356.71 L132.84,356.71 L131.81,356.71 L130.78,356.71 L129.75,356.71 L128.72,356.71 L127.69,356.71 L126.66,356.71 L125.63,356.71 L124.60,356.71Z" fill="#ff0000" fill-opacity="0.2"/>
<path d="M124.60,295.78 L125.63,295.78 L126.66,295.78 L127.69,295.78 L128.72,295.78 L129.75,295.78 L130.78,295.78 L131.81,295.78 L132.84,295.78 L133.87,295.78 L134.89,295.78 L135.92,295.78 L136.95,295.78 L137.98,295.78 L139.01,295.78 L140.04,295.78 L141.07,295.78 L142.10,295.78 L143.13,295.78 L144.16,295.78 L145.19,295.78 L146.22,295.78 L147.25,295.78 L148.28,295.78 L149.31,295.78 L150.34,295.78 L151.37,295.78 L152.40,295.78 L153.43,295.78 L154.45,295.78 L155.48,295.78 L156.51,295.78 L157.54,295.78 L158.57,295.78 L159.60,295.78 L160.63,295.78 L161.66,295.78 L162.69,295.78 L163.72,295.78 L164.75,295.78 L165.78,295.78 L166.81,295.78 L167.84,295.78 L168.87,295.78 L169.90,295.78 L170.93,295.78 L171.96,295.78 L172.99,295.78 L174.01,295.78 L175.04,295.78 L176.07,295.78 L177.10,295.78 L178.13,295.78 L179.16,295.78 L180.19,295.78 L181.22,295.78 L182.25,295.77 L183.28,295.77 L184.31,295.77 L185.34,295.77 L186.37,295.77 L187.40,295.77 L188.43,295.77 L189.46,295.77 L190.49,295.77 L191.52,295.77 L192.55,295.77 L193.57,295.77 L194.60,295.77 L195.63,295.77 L196.66,295.77 L197.69,295.77 L198.72,295.77 L199.75,295.77 L200.78,295.77 L201.81,295.77 L202.84,295.77 L203.87,295.77 L204.90,295.77 L205.93,295.77 L206.96,295.77 L207.99,295.77 L209.02,295.77 L210.05,295.77 L211.08,295.77 L212.11,295.77 L213.13,295.77 L214.16,295.77 L215.19,295.77 L216.22,295.77 L217.25,295.77 L218.28,295.77 L219.31,295.77 L220.34,295.77 L221.37,295.77 L222.40,295.77 L223.43,295.77 L224.46,295.76 L225.49,295.76 L226.52,295.76 L227.55,295.76 L228.58,295.76 L229.61,295.76 L230.64,295.76 L231.66,295.76 L232.69,295.76 L233.72,295.76 L234.75,295.76 L235.78,295.76 L236.81,295.76 L237.84,295.76 L238.87,295.76 L239.90,295.76 L240.93,295.76 L241.96,295.76 L242.99,295.76 L244.02,295.76 L245.05,295.76 L246.08,295.76 L247.11,295.76 L248.14,295.76 L249.17,295.76 L250.20,295.76 L251.22,295.76 L252.25,295.76 L253.28,295.76 L254.31,295.75 L255.34,295.75 L256.37,295.75 L257.40,295.75 L258.43,295.75 L259.46,295.75 L260.49,295.75 L261.52,295.75 L262.55,295.75 L263.58,295.75 L264.61,295.75 L265.64,295.75 L266.67,295.75 L267.70,295.75 L268.73,295.75 L269.76,295.75 L270.78,295.75 L271.81,295.75 L272.84,295.75 L273.87,295.75 L274.90,295.75 L275.93,295.75 L276.96,295.74 L277.99,295.74 L279.02,295.74 L280.05,295.74 L281.08,295.74 L282.11,295.74 L283.14,295.74 L284.17,295.74 L285.20,295.74 L286.23,295.74 L287.26,295.74 L288.29,295.74 L289.32,295.74 L290.34,295.74 L291.37,295.74 L292.40,295.74 L293.43,295.74 L294.46,295.74 L295.49,295.73 L296.52,295.73 L297.55,295.73 L298.58,295.73 L299.61,295.73 L300.64,295.73 L301.67,295.73 L302.70,295.73 L303.73,295.73 L304.76,295.73 L305.79,295.73 L306.82,295.73 L307.85,295.73 L308.88,295.73 L309.90,295.73 L310.93,295.73 L311.96,295.72 L312.99,295.72 L314.02,295.72 L315.05,295.72 L316.08,295.72 L317.11,295.72 L318.14,295.72 L319.17,295.72 L320.20,295.72 L321.23,295.72 L322.26,295.72 L323.29,295.72 L324.32,295.72 L325.35,295.72 L326.38,295.72 L327.41,295.71 L328.44,295.71 L329.46,295.71 L330.49,295.71 L331.52,295.71 L332.55,295.71 L333.58,295.71 L334.61,295.71 L335.64,295.71 L336.67,295.71 L337.70,295.71 L338.73,295.71 L339.76,295.71 L340.79,295.71 L341.82,295.71 L342.85,295.70 L343.88,295.70 L344.91,295.70 L345.94,295.70 L346.97,295.70 L348.00,295.70 L349.02,295.70 L350.05,295.70 L351.08,295.70 L352.11,295.70 L353.14,295.70 L354.17,295.70 L355.20,295.70 L356.23,295.70 L357.26,295.70 L358.29,295.70 L359.32,295.69 L360.35,295.69 L361.38,295.69 L362.41,295.69 L363.44,295.69 L364.47,295.69 L365.50,295.69 L366.53,295.69 L367.56,295.69 L368.58,295.69 L369.61,295.69 L370.64,295.69 L371.67,295.69 L372.70,295.69 L373.73,295.69 L374.76,295.69 L375.79,295.69 L376.82,295.69 L377.85,295.69 L378.88,295.69 L379.91,295.69 L380.94,295.69 L381.97,295.69 L383.00,295.69 L384.03,295.69 L385.06,295.69 L386.09,295.69 L387.12,295.69 L388.14,295.69 L389.17,295.69 L390.20,295.69 L391.23,295.69 L392.26,295.69 L393.29,295.69 L394.32,295.69 L395.35,295.69 L396.38,295.69 L397.41,295.69 L398.44,295.69 L399.47,295.69 L400.50,295.69 L401.53,295.69 L402.56,295.69 L403.59,295.69 L404.62,295.70 L405.65,295.70 L406.67,295.70 L407.70,295.70 L408.73,295.70 L409.76,295.70 L410.79,295.70 L411.82,295.70 L412.85,295.71 L413.88,295.71 L414.91,295.71 L415.94,295.71 L416.97,295.71 L418.00,295.72 L419.03,295.72 L420.06,295.72 L421.09,295.72 L422.12,295.72 L423.15,295.73 L424.18,295.73 L425.21,295.73 L426.23,295.74 L427.26,295.74 L428.29,295.74 L429.32,295.75 L430.35,295.75 L431.38,295.75 L432.41,295.76 L433.44,295.76 L434.47,295.77 L435.50,295.77 L436.53,295.78 L437.56,295.78 L438.59,295.79 L439.62,295.79 L440.65,295.79 L441.68,295.79 L442.71,295.79 L443.74,295.79 L444.77,295.79 L445.79,295.79 L446.82,295.79 L447.85,295.79 L448.88,295.79 L449.91,295.80 L450.94,295.80 L451.97,295.80 L453.00,295.80 L454.03,295.80 L455.06,295.81 L456.09,295.81 L457.12,295.81 L458.15,295.82 L459.18,295.82 L460.21,295.83 L461.24,295.83 L462.27,295.84 L463.30,295.84 L464.33,295.85 L465.35,295.86 L466.38,295.86 L467.41,295.87 L468.44,295.88 L469.47,295.89 L470.50,295.90 L471.53,295.90 L472.56,295.91 L473.59,295.93 L474.62,295.94 L475.65,295.95 L476.68,295.96 L477.71,295.97 L478.74,295.99 L479.77,296.00 L480.80,296.02 L481.83,296.03 L482.86,296.05 L483.89,296.06 L484.91,296.08 L485.94,296.10 L486.97,296.12 L488.00,296.14 L489.03,296.16 L490.06,296.18 L491.09,296.20 L492.12,296.23 L493.15,296.25 L494.18,296.27 L495.21,296.30 L496.24,296.33 L497.27,296.35 L498.30,296.38 L499.33,296.41 L500.36,296.44 L501.39,296.48 L502.42,296.51 L503.45,296.54 L504.47,296.58 L505.50,296.62 L506.53,296.65 L507.56,296.69 L508.59,296.73 L509.62,296.78 L510.65,296.82 L511.68,296.86 L512.71,296.91 L513.74,296.96 L514.77,297.01 L515.80,297.06 L516.83,297.11 L517.86,297.16 L518.89,297.22 L519.92,297.27 L520.95,297.34 L521.98,297.41 L523.01,297.47 L524.03,297.55 L525.06,297.62 L526.09,297.69 L527.12,297.77 L528.15,297.85 L529.18,297.93 L530.21,298.01 L531.24,298.10 L532.27,298.18 L533.30,298.27 L534.33,298.36 L535.36,298.46 L536.39,298.55 L537.42,298.65 L538.45,298.75 L539.48,298.86 L540.51,298.96 L541.54,299.07 L542.57,299.19 L543.59,299.30 L544.62,299.42 L545.65,299.54 L546.68,299.66 L547.71,299.79 L548.74,299.92 L549.77,300.05 L550.80,300.19 L551.83,300.32 L552.86,300.47 L553.89,300.61 L554.92,300.76 L555.95,300.91 L556.98,301.07 L558.01,301.23 L559.04,301.39 L560.07,301.56 L561.10,301.73 L562.13,301.90 L563.15,302.08 L564.18,302.26 L565.21,302.45 L566.24,302.64 L567.27,302.83 L568.30,303.03 L569.33,303.23 L570.36,303.44 L571.39,303.65 L572.42,303.87 L573.45,304.09 L574.48,304.31 L575.51,304.54 L576.54,304.78 L577.57,305.01 L578.60,305.26 L579.63,305.50 L580.66,305.76 L581.68,306.02 L582.71,306.28 L583.74,306.55 L584.77,306.82 L585.80,307.10 L586.83,307.38 L587.86,307.67 L588.89,307.96 L589.92,308.26 L590.95,308.56 L591.98,308.87 L593.01,309.18 L594.04,309.50 L595.07,309.83 L596.10,310.16 L597.13,310.50 L598.16,310.84 L599.19,311.18 L600.22,311.54 L601.24,311.89 L602.27,312.26 L603.30,312.63 L604.33,313.00 L605.36,313.38 L606.39,313.77 L607.42,314.16 L608.45,314.56 L609.48,314.96 L610.51,315.37 L611.54,315.79 L612.57,316.21 L613.60,316.63 L614.63,317.07 L615.66,317.50 L616.69,317.95 L617.72,318.40 L618.75,318.85 L619.78,319.31 L620.80,319.78 L621.83,320.25 L622.86,320.73 L623.89,321.21 L624.92,321.70 L625.95,322.19 L626.98,322.69 L628.01,323.20 L629.04,323.71 L630.07,324.22 L631.10,324.74 L632.13,325.27 L633.16,325.80 L634.19,326.34 L635.22,326.88 L636.25,327.43 L637.28,327.98 L638.31,328.54 L639.34,329.10 L640.36,329.67 L641.39,330.24 L642.42,330.82 L643.45,331.40 L644.48,331.99 L645.51,332.58 L646.54,333.18 L647.57,333.78 L648.60,334.39 L649.63,335.00 L650.66,335.61 L651.69,336.23 L652.72,336.86 L653.75,337.49 L654.78,338.12 L655.81,338.76 L656.84,339.40 L657.87,340.04 L658.90,340.69 L659.92,341.35 L660.95,342.00 L661.98,342.67 L663.01,343.33 L664.04,344.00 L665.07,344.67 L666.10,345.35 L667.13,346.03 L668.16,346.71 L669.19,347.40 L670.22,348.09 L671.25,348.78 L672.28,349.48 L673.31,350.18 L674.34,350.88 L675.37,351.59 L676.40,352.30 L677.43,353.01 L678.46,353.73 L679.48,354.45 L680.51,355.17 L681.54,355.90 L682.57,356.62 L683.60,357.35 L684.63,358.09 L685.66,358.82 L686.69,359.56 L687.72,360.30 L688.75,361.04 L689.78,361.79 L690.81,362.53 L691.84,363.28 L692.87,364.04 L693.90,364.79 L694.93,365.55 L695.96,366.31 L696.99,367.07 L698.02,367.83 L699.04,368.60 L700.07,369.36 L701.10,370.13 L702.13,370.90 L703.16,371.67 L704.19,372.45 L705.22,373.22 L706.25,374.00 L707.28,374.78 L708.31,375.56 L709.34,376.35 L710.37,377.13 L711.40,377.92 L712.43,378.70 L713.46,379.49 L714.49,380.28 L715.52,381.07 L716.55,381.87 L717.58,382.66 L718.60,383.46 L719.63,384.25 L720.66,385.05 L721.69,385.85 L722.72,386.65 L723.75,387.46 L724.78,388.26 L725.81,389.06 L726.84,389.87 L727.87,390.67 L728.90,391.48 L729.93,392.29 L730.96,393.10 L731.99,393.91 L733.02,394.72 L734.05,395.53 L735.08,396.35 L736.11,397.16 L737.14,397.97 L738.16,398.79 L739.19,399.61 L740.22,400.42 L741.25,401.24 L742.28,402.06 L743.31,402.88 L744.34,403.70 L745.37,404.52 L746.40,405.34 L747.43,406.16 L748.46,406.99 L749.49,407.81 L750.52,408.64 L751.55,409.46 L752.58,410.29 L753.61,411.11 L754.64,411.94 L755.67,412.77 L756.69,413.59 L757.72,414.42 L758.75,415.25 L759.78,416.08 L760.81,416.91 L761.84,417.74 L762.87,418.57 L763.90,419.40 L764.93,420.23 L765.96,421.06 L766.99,421.90 L768.02,422.73 L769.05,423.56 L770.08,424.39 L771.11,425.23 L772.14,426.06 L773.17,426.90 L774.20,427.73 L775.23,428.57 L776.25,429.40 L777.28,430.24 L778.31,431.08 L779.34,431.91 L780.37,432.75 L781.40,433.59 L782.43,434.42 L783.46,435.26 L784.49,436.10 L785.52,436.94 L786.55,437.78 L787.58,438.61 L788.61,439.45 L789.64,440.29 L790.67,441.13 L791.70,441.97 L792.73,442.81 L793.76,443.65 L794.79,444.49 L795.81,445.33 L796.84,446.17 L797.87,447.01 L798.90,447.86 L799.93,448.70 L800.96,449.54 L801.99,450.38 L803.02,451.22 L804.05,452.06 L805.08,452.91 L806.11,453.75 L807.14,454.59 L808.17,455.43 L809.20,456.28 L810.23,457.12 L811.26,457.96 L812.29,458.80 L813.32,459.65 L814.35,460.49 L815.37,461.33 L816.40,462.18 L817.43,463.02 L818.46,463.87 L819.49,464.71 L820.52,465.55 L821.55,466.40 L822.58,467.24 L823.61,468.09 L824.64,468.93 L825.67,469.78 L826.70,470.62 L827.73,471.47 L828.76,472.31 L829.79,473.15 L830.82,474.00 L831.85,474.85 L832.88,475.69 L833.91,476.54 L834.93,477.38 L835.96,478.23 L836.99,479.07 L838.02,479.92 L839.05,480.76 L840.08,481.61 L841.11,482.45 L842.14,483.30 L843.17,484.15 L844.20,484.99" fill="none" stroke="#ff0000" stroke-width="4.0" stroke-linejoin="round"/>
<path d="M124.60,356.71 L125.63,356.71 L126.66,356.71 L127.69,356.71 L128.72,356.71 L129.75,356.71 L130.78,356.71 L131.81,356.71 L132.84,356.71 L133.87,356.71 L134.89,356.71 L135.92,356.71 L136.95,356.71 L137.98,356.71 L139.01,356.71 L140.04,356.71 L141.07,356.71 L142.10,356.71 L143.13,356.71 L144.16,356.71 L145.19,356.71 L146.22,356.71 L147.25,356.71 L148.28,356.71 L149.31,356.71 L150.34,356.71 L151.37,356.71 L152.40,356.71 L153.43,356.71 L154.45,356.71 L155.48,356.71 L156.51,356.71 L157.54,356.71 L158.57,356.71 L159.60,356.71 L160.63,356.71 L161.66,356.71 L162.69,356.71 L163.72,356.71 L164.75,356.71 L165.78,356.71 L166.81,356.71 L167.84,356.71 L168.87,356.71 L169.90,356.71 L170.93,356.71 L171.96,356.71 L172.99,356.71 L174.01,356.71 L175.04,356.71 L176.07,356.71 L177.10,356.71 L178.13,356.71 L179.16,356.71 L180.19,356.71 L181.22,356.71 L182.25,356.71 L183.28,356.71 L184.31,356.71 L185.34,356.71 L186.37,356.71 L187.40,356.71 L188.43,356.71 L189.46,356.71 L190.49,356.71 L191.52,356.71 L192.55,356.71 L193.57,356.71 L194.60,356.71 L195.63,356.71 L196.66,356.71 L197.69,356.71 L198.72,356.71 L199.75,356.71 L200.78,356.71 L201.81,356.71 L202.84,356.71 L203.87,356.71 L204.90,356.71 L205.93,356.71 L206.96,356.71 L207.99,356.71 L209.02,356.71 L210.05,356.71 L211.08,356.72 L212.11,356.72 L213.13,356.72 L214.16,356.72 L215.19,356.72 L216.22,356.72 L217.25,356.72 L218.28,356.72 L219.31,356.72 L220.34,356.72 L221.37,356.72 L222.40,356.72 L223.43,356.72 L224.46,356.72 L225.49,356.72 L226.52,356.72 L227.55,356.72 L228.58,356.72 L229.61,356.72 L230.64,356.72 L231.66,356.72 L232.69,356.72 L233.72,356.72 L234.75,356.72 L235.78,356.72 L236.81,356.72 L237.84,356.72 L238.87,356.72 L239.90,356.72 L240.93,356.72 L241.96,356.72 L242.99,356.72 L244.02,356.72 L245.05,356.72 L246.08,356.72 L247.11,356.72 L248.14,356.72 L249.17,356.72 L250.20,356.72 L251.22,356.72 L252.25,356.72 L253.28,356.72 L254.31,356.72 L255.34,356.72 L256.37,356.72 L257.40,356.72 L258.43,356.72 L259.46,356.73 L260.49,356.73 L261.52,356.73 L262.55,356.73 L263.58,356.73 L264.61,356.73 L265.64,356.73 L266.67,356.73 L267.70,356.73 L268.73,356.73 L269.76,356.73 L270.78,356.73 L271.81,356.73 L272.84,356.73 L273.87,356.73 L274.90,356.73 L275.93,356.73 L276.96,356.73 L277.99,356.73 L279.02,356.73 L280.05,356.73 L281.08,356.73 L282.11,356.73 L283.14,356.73 L284.17,356.73 L285.20,356.74 L286.23,356.74 L287.26,356.74 L288.29,356.74 L289.32,356.74 L290.34,356.74 L291.37,356.74 L292.40,356.74 L293.43,356.74 L294.46,356.74 L295.49,356.74 L296.52,356.74 L297.55,356.74 L298.58,356.74 L299.61,356.74 L300.64,356.74 L301.67,356.74 L302.70,356.75 L303.73,356.75 L304.76,356.75 L305.79,356.75 L306.82,356.75 L307.85,356.75 L308.88,356.75 L309.90,356.75 L310.93,356.75 L311.96,356.75 L312.99,356.75 L314.02,356.75 L315.05,356.75 L316.08,356.76 L317.11,356.76 L318.14,356.76 L319.17,356.76 L320.20,356.76 L321.23,356.76 L322.26,356.76 L323.29,356.76 L324.32,356.76 L325.35,356.76 L326.38,356.76 L327.41,356.77 L328.44,356.77 L329.46,356.77 L330.49,356.77 L331.52,356.77 L332.55,356.77 L333.58,356.77 L334.61,356.77 L335.64,356.78 L336.67,356.78 L337.70,356.78 L338.73,356.78 L339.76,356.78 L340.79,356.78 L341.82,356.78 L342.85,356.79 L343.88,356.79 L344.91,356.79 L345.94,356.79 L346.97,356.79 L348.00,356.79 L349.02,356.79 L350.05,356.80 L351.08,356.80 L352.11,356.80 L353.14,356.80 L354.17,356.80 L355.20,356.81 L356.23,356.81 L357.26,356.81 L358.29,356.81 L359.32,356.81 L360.35,356.82 L361.38,356.82 L362.41,356.82 L363.44,356.82 L364.47,356.82 L365.50,356.83 L366.53,356.83 L367.56,356.83 L368.58,356.83 L369.61,356.84 L370.64,356.84 L371.67,356.84 L372.70,356.85 L373.73,356.85 L374.76,356.85 L375.79,356.85 L376.82,356.86 L377.85,356.86 L378.88,356.86 L379.91,356.87 L380.94,356.87 L381.97,356.87 L383.00,356.88 L384.03,356.88 L385.06,356.88 L386.09,356.89 L387.12,356.89 L388.14,356.90 L389.17,356.90 L390.20,356.90 L391.23,356.91 L392.26,356.91 L393.29,356.92 L394.32,356.92 L395.35,356.92 L396.38,356.93 L397.41,356.93 L398.44,356.94 L399.47,356.94 L400.50,356.95 L401.53,356.95 L402.56,356.96 L403.59,356.97 L404.62,356.97 L405.65,356.98 L406.67,356.98 L407.70,356.99 L408.73,356.99 L409.76,357.00 L410.79,357.01 L411.82,357.01 L412.85,357.02 L413.88,357.03 L414.91,357.03 L415.94,357.04 L416.97,357.05 L418.00,357.06 L419.03,357.06 L420.06,357.07 L421.09,357.08 L422.12,357.09 L423.15,357.10 L424.18,357.11 L425.21,357.11 L426.23,357.12 L427.26,357.13 L428.29,357.14 L429.32,357.15 L430.35,357.16 L431.38,357.17 L432.41,357.18 L433.44,357.19 L434.47,357.20 L435.50,357.22 L436.53,357.23 L437.56,357.24 L438.59,357.25 L439.62,357.26 L440.65,357.28 L441.68,357.29 L442.71,357.30 L443.74,357.32 L444.77,357.33 L445.79,357.34 L446.82,357.36 L447.85,357.37 L448.88,357.39 L449.91,357.41 L450.94,357.42 L451.97,357.44 L453.00,357.45 L454.03,357.47 L455.06,357.49 L456.09,357.51 L457.12,357.53 L458.15,357.55 L459.18,357.57 L460.21,357.59 L461.24,357.61 L462.27,357.63 L463.30,357.65 L464.33,357.67 L465.35,357.69 L466.38,357.72 L467.41,357.74 L468.44,357.76 L469.47,357.79 L470.50,357.81 L471.53,357.84 L472.56,357.87 L473.59,357.89 L474.62,357.92 L475.65,357.95 L476.68,357.98 L477.71,358.01 L478.74,358.04 L479.77,358.07 L480.80,358.11 L481.83,358.14 L482.86,358.17 L483.89,358.21 L484.91,358.24 L485.94,358.28 L486.97,358.32 L488.00,358.36 L489.03,358.39 L490.06,358.43 L491.09,358.48 L492.12,358.52 L493.15,358.56 L494.18,358.61 L495.21,358.65 L496.24,358.70 L497.27,358.74 L498.30,358.79 L499.33,358.84 L500.36,358.89 L501.39,358.95 L502.42,359.00 L503.45,359.05 L504.47,359.11 L505.50,359.17 L506.53,359.23 L507.56,359.29 L508.59,359.35 L509.62,359.41 L510.65,359.48 L511.68,359.54 L512.71,359.61 L513.74,359.68 L514.77,359.75 L515.80,359.82 L516.83,359.90 L517.86,359.97 L518.89,360.05 L519.92,360.13 L520.95,360.21 L521.98,360.30 L523.01,360.38 L524.03,360.47 L525.06,360.56 L526.09,360.65 L527.12,360.74 L528.15,360.84 L529.18,360.94 L530.21,361.04 L531.24,361.14 L532.27,361.24 L533.30,361.35 L534.33,361.46 L535.36,361.57 L536.39,361.69 L537.42,361.81 L538.45,361.93 L539.48,362.05 L540.51,362.17 L541.54,362.30 L542.57,362.43 L543.59,362.57 L544.62,362.70 L545.65,362.84 L546.68,362.98 L547.71,363.13 L548.74,363.28 L549.77,363.43 L550.80,363.59 L551.83,363.74 L552.86,363.91 L553.89,364.07 L554.92,364.24 L555.95,364.41 L556.98,364.59 L558.01,364.77 L559.04,364.95 L560.07,365.14 L561.10,365.33 L562.13,365.52 L563.15,365.72 L564.18,365.92 L565.21,366.13 L566.24,366.34 L567.27,366.56 L568.30,366.77 L569.33,367.00 L570.36,367.23 L571.39,367.46 L572.42,367.69 L573.45,367.93 L574.48,368.18 L575.51,368.43 L576.54,368.68 L577.57,368.94 L578.60,369.21 L579.63,369.47 L580.66,369.75 L581.68,370.02 L582.71,370.31 L583.74,370.60 L584.77,370.89 L585.80,371.19 L586.83,371.49 L587.86,371.80 L588.89,372.11 L589.92,372.43 L590.95,372.75 L591.98,373.08 L593.01,373.41 L594.04,373.75 L595.07,374.10 L596.10,374.45 L597.13,374.80 L598.16,375.16 L599.19,375.53 L600.22,375.90 L601.24,376.28 L602.27,376.66 L603.30,377.05 L604.33,377.44 L605.36,377.84 L606.39,378.24 L607.42,378.65 L608.45,379.07 L609.48,379.49 L610.51,379.92 L611.54,380.35 L612.57,380.79 L613.60,381.23 L614.63,381.68 L615.66,382.13 L616.69,382.59 L617.72,383.06 L618.75,383.53 L619.78,384.01 L620.80,384.49 L621.83,384.97 L622.86,385.47 L623.89,385.97 L624.92,386.47 L625.95,386.98 L626.98,387.49 L628.01,388.01 L629.04,388.54 L630.07,389.07 L631.10,389.60 L632.13,390.14 L633.16,390.69 L634.19,391.24 L635.22,391.79 L636.25,392.35 L637.28,392.92 L638.31,393.49 L639.34,394.06 L640.36,394.64 L641.39,395.23 L642.42,395.82 L643.45,396.41 L644.48,397.01 L645.51,397.61 L646.54,398.22 L647.57,398.83 L648.60,399.45 L649.63,400.07 L650.66,400.70 L651.69,401.33 L652.72,401.96 L653.75,402.60 L654.78,403.24 L655.81,403.89 L656.84,404.54 L657.87,405.20 L658.90,405.85 L659.92,406.52 L660.95,407.18 L661.98,407.85 L663.01,408.53 L664.04,409.20 L665.07,409.88 L666.10,410.57 L667.13,411.26 L668.16,411.95 L669.19,412.64 L670.22,413.34 L671.25,414.04 L672.28,414.74 L673.31,415.45 L674.34,416.16 L675.37,416.87 L676.40,417.59 L677.43,418.31 L678.46,419.03 L679.48,419.76 L680.51,420.48 L681.54,421.21 L682.57,421.95 L683.60,422.68 L684.63,423.42 L685.66,424.16 L686.69,424.90 L687.72,425.65 L688.75,426.40 L689.78,427.15 L690.81,427.90 L691.84,428.65 L692.87,429.41 L693.90,430.17 L694.93,430.93 L695.96,431.69 L696.99,432.46 L698.02,433.22 L699.04,433.99 L700.07,434.76 L701.10,435.54 L702.13,436.31 L703.16,437.09 L704.19,437.86 L705.22,438.64 L706.25,439.42 L707.28,440.21 L708.31,440.99 L709.34,441.78 L710.37,442.56 L711.40,443.35 L712.43,444.14 L713.46,444.94 L714.49,445.73 L715.52,446.52 L716.55,447.32 L717.58,448.12 L718.60,448.91 L719.63,449.71 L720.66,450.51 L721.69,451.32 L722.72,452.12 L723.75,452.92 L724.78,453.73 L725.81,454.53 L726.84,455.34 L727.87,456.15 L728.90,456.96 L729.93,457.77 L730.96,458.58 L731.99,459.39 L733.02,460.20 L734.05,461.02 L735.08,461.83 L736.11,462.65 L737.14,463.46 L738.16,464.28 L739.19,465.10 L740.22,465.92 L741.25,466.74 L742.28,467.56 L743.31,468.38 L744.34,469.20 L745.37,470.02 L746.40,470.85 L747.43,471.67 L748.46,472.49 L749.49,473.32 L750.52,474.14 L751.55,474.97 L752.58,475.80 L753.61,476.62 L754.64,477.45 L755.67,478.28 L756.69,479.11 L757.72,479.94 L758.75,480.77 L759.78,481.60 L760.81,482.43 L761.84,483.26 L762.87,484.09 L763.90,484.92 L764.93,485.75 L765.96,486.58 L766.99,487.42 L768.02,488.25 L769.05,489.09 L770.08,489.92 L771.11,490.75 L772.14,491.59 L773.17,492.42 L774.20,493.26 L775.23,494.10 L776.25,494.93 L777.28,495.77 L778.31,496.60 L779.34,497.44 L780.37,498.28 L781.40,499.12 L782.43,499.95 L783.46,500.79 L784.49,501.63 L785.52,502.47 L786.55,503.31 L787.58,504.15 L788.61,504.99 L789.64,505.83 L790.67,506.67 L791.70,507.51 L792.73,508.35 L793.76,509.19 L794.79,510.03 L795.81,510.87 L796.84,511.71 L797.87,512.55 L798.90,513.39 L799.93,514.23 L800.96,515.08 L801.99,515.92 L803.02,516.76 L804.05,517.60 L805.08,518.45 L806.11,519.29 L807.14,520.13 L808.17,520.97 L809.20,521.82 L810.23,522.66 L811.26,523.50 L812.29,524.35 L813.32,525.19 L814.35,526.03 L815.37,526.88 L816.40,527.72 L817.43,528.56 L818.46,529.41 L819.49,530.25 L820.52,531.10 L821.55,531.94 L822.58,532.79 L823.61,533.63 L824.64,534.48 L825.67,535.32 L826.70,536.16 L827.73,537.01 L828.76,537.85 L829.79,538.70 L830.82,539.54 L831.85,540.39 L832.88,541.24 L833.91,542.08 L834.93,542.93 L835.96,543.77 L836.99,544.62 L838.02,545.46 L839.05,546.31 L840.08,547.15 L841.11,548.00 L842.14,548.85 L843.17,549.69 L844.20,550.54" fill="none" stroke="#ff0000" stroke-width="4.0" stroke-linejoin="round"/>
<line x1="124.36999999999999" x2="844.2" y1="281.58" y2="281.58" stroke="#808080" stroke-width="3.8" stroke-dasharray="9.77 10.16"/>
<line x1="124.36999999999999" x2="844.2" y1="355.68" y2="355.68" stroke="#808080" stroke-width="3.8" stroke-dasharray="9.77 10.16"/>
<line x1="124.36999999999999" x2="844.2" y1="410.87" y2="410.87" stroke="#808080" stroke-width="3.8" stroke-dasharray="9.77 10.16"/>
</g>
<rect x="124.6" y="59.25" width="719.6" height="444.65" fill="none" stroke="#000" stroke-width="1.5"/>
<path d="M124.60,503.9v-7.3M124.60,59.25v7.3M178.76,503.9v-5.3M178.76,59.25v5.3M210.43,503.9v-5.3M210.43,59.25v5.3M232.91,503.9v-5.3M232.91,59.25v5.3M250.34,503.9v-5.3M250.34,59.25v5.3M264.59,503.9v-5.3M264.59,59.25v5.3M276.63,503.9v-5.3M276.63,59.25v5.3M287.07,503.9v-5.3M287.07,59.25v5.3M296.27,503.9v-5.3M296.27,59.25v5.3M304.50,503.9v-7.3M304.50,59.25v7.3M358.66,503.9v-5.3M358.66,59.25v5.3M390.33,503.9v-5.3M390.33,59.25v5.3M412.81,503.9v-5.3M412.81,59.25v5.3M430.24,503.9v-5.3M430.24,59.25v5.3M444.49,503.9v-5.3M444.49,59.25v5.3M456.53,503.9v-5.3M456.53,59.25v5.3M466.97,503.9v-5.3M466.97,59.25v5.3M476.17,503.9v-5.3M476.17,59.25v5.3M484.40,503.9v-7.3M484.40,59.25v7.3M538.56,503.9v-5.3M538.56,59.25v5.3M570.23,503.9v-5.3M570.23,59.25v5.3M592.71,503.9v-5.3M592.71,59.25v5.3M610.14,503.9v-5.3M610.14,59.25v5.3M624.39,503.9v-5.3M624.39,59.25v5.3M636.43,503.9v-5.3M636.43,59.25v5.3M646.87,503.9v-5.3M646.87,59.25v5.3M656.07,503.9v-5.3M656.07,59.25v5.3M664.30,503.9v-7.3M664.30,59.25v7.3M718.46,503.9v-5.3M718.46,59.25v5.3M750.13,503.9v-5.3M750.13,59.25v5.3M772.61,503.9v-5.3M772.61,59.25v5.3M790.04,503.9v-5.3M790.04,59.25v5.3M804.29,503.9v-5.3M804.29,59.25v5.3M816.33,503.9v-5.3M816.33,59.25v5.3M826.77,503.9v-5.3M826.77,59.25v5.3M835.97,503.9v-5.3M835.97,59.25v5.3M844.20,503.9v-7.3M844.20,59.25v7.3M124.6,503.90h7.3M844.2,503.90h-7.3M124.6,481.59h5.3M844.2,481.59h-5.3M124.6,468.54h5.3M844.2,468.54h-5.3M124.6,459.28h5.3M844.2,459.28h-5.3M124.6,452.10h5.3M844.2,452.10h-5.3M124.6,446.23h5.3M844.2,446.23h-5.3M124.6,441.27h5.3M844.2,441.27h-5.3M124.6,436.97h5.3M844.2,436.97h-5.3M124.6,433.18h5.3M844.2,433.18h-5.3M124.6,429.79h7.3M844.2,429.79h-7.3M124.6,407.48h5.3M844.2,407.48h-5.3M124.6,394.43h5.3M844.2,394.43h-5.3M124.6,385.17h5.3M844.2,385.17h-5.3M124.6,377.99h5.3M844.2,377.99h-5.3M124.6,372.12h5.3M844.2,372.12h-5.3M124.6,367.16h5.3M844.2,367.16h-5.3M124.6,362.87h5.3M844.2,362.87h-5.3M124.6,359.07h5.3M844.2,359.07h-5.3M124.6,355.68h7.3M844.2,355.68h-7.3M124.6,333.37h5.3M844.2,333.37h-5.3M124.6,320.32h5.3M844.2,320.32h-5.3M124.6,311.07h5.3M844.2,311.07h-5.3M124.6,303.88h5.3M844.2,303.88h-5.3M124.6,298.02h5.3M844.2,298.02h-5.3M124.6,293.05h5.3M844.2,293.05h-5.3M124.6,288.76h5.3M844.2,288.76h-5.3M124.6,284.97h5.3M844.2,284.97h-5.3M124.6,281.58h7.3M844.2,281.58h-7.3M124.6,259.27h5.3M844.2,259.27h-5.3M124.6,246.22h5.3M844.2,246.22h-5.3M124.6,236.96h5.3M844.2,236.96h-5.3M124.6,229.78h5.3M844.2,229.78h-5.3M124.6,223.91h5.3M844.2,223.91h-5.3M124.6,218.95h5.3M844.2,218.95h-5.3M124.6,214.65h5.3M844.2,214.65h-5.3M124.6,210.86h5.3M844.2,210.86h-5.3M124.6,207.47h7.3M844.2,207.47h-7.3M124.6,185.16h5.3M844.2,185.16h-5.3M124.6,172.11h5.3M844.2,172.11h-5.3M124.6,162.85h5.3M844.2,162.85h-5.3M124.6,155.67h5.3M844.2,155.67h-5.3M124.6,149.80h5.3M844.2,149.80h-5.3M124.6,144.84h5.3M844.2,144.84h-5.3M124.6,140.54h5.3M844.2,140.54h-5.3M124.6,136.75h5.3M844.2,136.75h-5.3M124.6,133.36h7.3M844.2,133.36h-7.3M124.6,111.05h5.3M844.2,111.05h-5.3M124.6,98.00h5.3M844.2,98.00h-5.3M124.6,88.74h5.3M844.2,88.74h-5.3M124.6,81.56h5.3M844.2,81.56h-5.3M124.6,75.69h5.3M844.2,75.69h-5.3M124.6,70.73h5.3M844.2,70.73h-5.3M124.6,66.43h5.3M844.2,66.43h-5.3M124.6,62.64h5.3M844.2,62.64h-5.3M124.6,59.25h7.3M844.2,59.25h-7.3" stroke="#000" stroke-width="1.2" fill="none"/>
<path transform="translate(63.30,518.00) scale(0.01191,-0.01191)" d="M763 0H583V1147Q518 1085 412.5 1023T223 930V1104Q374 1175 487 1276T647 1472H763Z" fill="#000" stroke="#000" stroke-width="16.8"/><text font-family="Liberation Sans, sans-serif" font-size="24.4" x="76.87" y="518" stroke="#000" stroke-width="0.25">0</text><text font-family="Liberation Sans, sans-serif" font-size="22.6" x="90.60" y="507" stroke="#000" stroke-width="0.25">25</text>
<path transform="translate(63.30,443.00) scale(0.01191,-0.01191)" d="M763 0H583V1147Q518 1085 412.5 1023T223 930V1104Q374 1175 487 1276T647 1472H763Z" fill="#000" stroke="#000" stroke-width="16.8"/><text font-family="Liberation Sans, sans-serif" font-size="24.4" x="76.87" y="443" stroke="#000" stroke-width="0.25">0</text><text font-family="Liberation Sans, sans-serif" font-size="22.6" x="90.60" y="433" stroke="#000" stroke-width="0.25">26</text>
<path transform="translate(63.30,369.00) scale(0.01191,-0.01191)" d="M763 0H583V1147Q518 1085 412.5 1023T223 930V1104Q374 1175 487 1276T647 1472H763Z" fill="#000" stroke="#000" stroke-width="16.8"/><text font-family="Liberation Sans, sans-serif" font-size="24.4" x="76.87" y="369" stroke="#000" stroke-width="0.25">0</text><text font-family="Liberation Sans, sans-serif" font-size="22.6" x="90.60" y="359" stroke="#000" stroke-width="0.25">27</text>
<path transform="translate(63.30,295.00) scale(0.01191,-0.01191)" d="M763 0H583V1147Q518 1085 412.5 1023T223 930V1104Q374 1175 487 1276T647 1472H763Z" fill="#000" stroke="#000" stroke-width="16.8"/><text font-family="Liberation Sans, sans-serif" font-size="24.4" x="76.87" y="295" stroke="#000" stroke-width="0.25">0</text><text font-family="Liberation Sans, sans-serif" font-size="22.6" x="90.60" y="285" stroke="#000" stroke-width="0.25">28</text>
<path transform="translate(63.30,221.00) scale(0.01191,-0.01191)" d="M763 0H583V1147Q518 1085 412.5 1023T223 930V1104Q374 1175 487 1276T647 1472H763Z" fill="#000" stroke="#000" stroke-width="16.8"/><text font-family="Liberation Sans, sans-serif" font-size="24.4" x="76.87" y="221" stroke="#000" stroke-width="0.25">0</text><text font-family="Liberation Sans, sans-serif" font-size="22.6" x="90.60" y="211" stroke="#000" stroke-width="0.25">29</text>
<path transform="translate(63.30,147.00) scale(0.01191,-0.01191)" d="M763 0H583V1147Q518 1085 412.5 1023T223 930V1104Q374 1175 487 1276T647 1472H763Z" fill="#000" stroke="#000" stroke-width="16.8"/><text font-family="Liberation Sans, sans-serif" font-size="24.4" x="76.87" y="147" stroke="#000" stroke-width="0.25">0</text><text font-family="Liberation Sans, sans-serif" font-size="22.6" x="90.60" y="136" stroke="#000" stroke-width="0.25">30</text>
<path transform="translate(63.30,73.00) scale(0.01191,-0.01191)" d="M763 0H583V1147Q518 1085 412.5 1023T223 930V1104Q374 1175 487 1276T647 1472H763Z" fill="#000" stroke="#000" stroke-width="16.8"/><text font-family="Liberation Sans, sans-serif" font-size="24.4" x="76.87" y="73" stroke="#000" stroke-width="0.25">0</text><text font-family="Liberation Sans, sans-serif" font-size="22.6" x="90.60" y="62" stroke="#000" stroke-width="0.25">3</text><path transform="translate(103.17,62.00) scale(0.01104,-0.01104)" d="M763 0H583V1147Q518 1085 412.5 1023T223 930V1104Q374 1175 487 1276T647 1472H763Z" fill="#000" stroke="#000" stroke-width="18.1"/>
<path transform="translate(91.90,544.00) scale(0.01191,-0.01191)" d="M763 0H583V1147Q518 1085 412.5 1023T223 930V1104Q374 1175 487 1276T647 1472H763Z" fill="#000" stroke="#000" stroke-width="16.8"/><text font-family="Liberation Sans, sans-serif" font-size="24.4" x="105.47" y="544" stroke="#000" stroke-width="0.25">0</text><text font-family="Liberation Sans, sans-serif" font-size="22" x="119.20" y="534.7" stroke="#000" stroke-width="0.25">−</text><path transform="translate(132.10,534.00) scale(0.01104,-0.01104)" d="M763 0H583V1147Q518 1085 412.5 1023T223 930V1104Q374 1175 487 1276T647 1472H763Z" fill="#000" stroke="#000" stroke-width="18.1"/><text font-family="Liberation Sans, sans-serif" font-size="22.6" x="144.67" y="534" stroke="#000" stroke-width="0.25">0</text>
<path transform="translate(277.85,544.00) scale(0.01191,-0.01191)" d="M763 0H583V1147Q518 1085 412.5 1023T223 930V1104Q374 1175 487 1276T647 1472H763Z" fill="#000" stroke="#000" stroke-width="16.8"/><text font-family="Liberation Sans, sans-serif" font-size="24.4" x="291.42" y="544" stroke="#000" stroke-width="0.25">0</text><text font-family="Liberation Sans, sans-serif" font-size="22" x="305.15" y="534.7" stroke="#000" stroke-width="0.25">−</text><text font-family="Liberation Sans, sans-serif" font-size="22.6" x="318.20" y="534" stroke="#000" stroke-width="0.25">9</text>
<path transform="translate(457.75,544.00) scale(0.01191,-0.01191)" d="M763 0H583V1147Q518 1085 412.5 1023T223 930V1104Q374 1175 487 1276T647 1472H763Z" fill="#000" stroke="#000" stroke-width="16.8"/><text font-family="Liberation Sans, sans-serif" font-size="24.4" x="471.32" y="544" stroke="#000" stroke-width="0.25">0</text><text font-family="Liberation Sans, sans-serif" font-size="22" x="485.05" y="534.7" stroke="#000" stroke-width="0.25">−</text><text font-family="Liberation Sans, sans-serif" font-size="22.6" x="498.10" y="534" stroke="#000" stroke-width="0.25">8</text>
<path transform="translate(637.65,544.00) scale(0.01191,-0.01191)" d="M763 0H583V1147Q518 1085 412.5 1023T223 930V1104Q374 1175 487 1276T647 1472H763Z" fill="#000" stroke="#000" stroke-width="16.8"/><text font-family="Liberation Sans, sans-serif" font-size="24.4" x="651.22" y="544" stroke="#000" stroke-width="0.25">0</text><text font-family="Liberation Sans, sans-serif" font-size="22" x="664.95" y="534.7" stroke="#000" stroke-width="0.25">−</text><text font-family="Liberation Sans, sans-serif" font-size="22.6" x="678.00" y="534" stroke="#000" stroke-width="0.25">7</text>
<path transform="translate(817.55,544.00) scale(0.01191,-0.01191)" d="M763 0H583V1147Q518 1085 412.5 1023T223 930V1104Q374 1175 487 1276T647 1472H763Z" fill="#000" stroke="#000" stroke-width="16.8"/><text font-family="Liberation Sans, sans-serif" font-size="24.4" x="831.12" y="544" stroke="#000" stroke-width="0.25">0</text><text font-family="Liberation Sans, sans-serif" font-size="22" x="844.85" y="534.7" stroke="#000" stroke-width="0.25">−</text><text font-family="Liberation Sans, sans-serif" font-size="22.6" x="857.90" y="534" stroke="#000" stroke-width="0.25">6</text>
<text font-family="Liberation Serif, serif" font-size="25.5" x="231.47" y="178.00" textLength="37.56" lengthAdjust="spacingAndGlyphs">NH</text>
<text font-family="Liberation Serif, serif" font-size="25.5" x="235.83" y="339.60" textLength="28.25" lengthAdjust="spacingAndGlyphs">IH</text>
<text font-family="Liberation Serif, serif" font-size="25.0" x="668.22" y="265.60" textLength="164.37" lengthAdjust="spacingAndGlyphs">LEGEND-1000</text>
<text font-family="Liberation Serif, serif" font-size="25.0" x="674.46" y="339.20" textLength="152.64" lengthAdjust="spacingAndGlyphs">LEGEND-200</text>
<text font-family="Liberation Serif, serif" font-size="30" x="346.22" y="27.50" textLength="14.76" lengthAdjust="spacingAndGlyphs" stroke="#fff" stroke-width="0.22">3</text>
<text font-family="Liberation Serif, serif" font-size="28.8" x="371.00" y="27.50" textLength="55.31" lengthAdjust="spacingAndGlyphs" stroke="#fff" stroke-width="0.22">light</text>
<text font-family="Liberation Serif, serif" font-size="30" x="438.20" y="27.50" textLength="26.68" lengthAdjust="spacingAndGlyphs" stroke="#fff" stroke-width="0.22">M</text>
<text font-family="Liberation Serif, serif" font-size="28.8" x="465.28" y="27.50" textLength="94.92" lengthAdjust="spacingAndGlyphs" stroke="#fff" stroke-width="0.22">ajorana</text>
<text font-family="Liberation Serif, serif" font-size="28.8" x="569.55" y="27.50" textLength="53.60" lengthAdjust="spacingAndGlyphs" stroke="#fff" stroke-width="0.22">case</text>
<text font-family="Liberation Serif, serif" font-size="26.5" x="207.90" y="443.90" textLength="84.03" lengthAdjust="spacingAndGlyphs" stroke="#fff" stroke-width="0.22">Current</text>
<text font-family="Liberation Serif, serif" font-size="26.5" x="301.97" y="443.90" textLength="57.05" lengthAdjust="spacingAndGlyphs" stroke="#fff" stroke-width="0.22">limit:</text>
<text font-family="Liberation Serif, serif" font-size="25.6" x="369.93" y="443.90" textLength="31.47" lengthAdjust="spacingAndGlyphs" stroke="#fff" stroke-width="0.22">1.8</text>
<path d="M409.5,429.6L423.4,441.4M423.4,429.6L409.5,441.4" stroke="#000" stroke-width="1.15" fill="none"/>
<text font-family="Liberation Serif, serif" font-size="25.6" x="431.60" y="443.90" textLength="23.33" lengthAdjust="spacingAndGlyphs" stroke="#fff" stroke-width="0.22">10</text>
<text font-family="Liberation Serif, serif" font-size="18.3" x="457.07" y="433.60" textLength="18.17" lengthAdjust="spacingAndGlyphs">26</text>
<text font-family="Liberation Serif, serif" font-size="26.5" x="486.13" y="443.90" textLength="22.83" lengthAdjust="spacingAndGlyphs" stroke="#fff" stroke-width="0.22">yr</text>
<text font-family="Liberation Serif, serif" font-style="italic" font-size="28" x="394.05" y="597.40" textLength="26.24" lengthAdjust="spacingAndGlyphs" stroke="#fff" stroke-width="0.22">m</text>
<text font-family="Liberation Serif, serif" font-size="19.6" x="420.05" y="601.70" textLength="66.80" lengthAdjust="spacingAndGlyphs">lightest</text>
<text font-family="Liberation Serif, serif" font-size="29.4" x="507.03" y="597.40" textLength="59.67" lengthAdjust="spacingAndGlyphs" stroke="#fff" stroke-width="0.22">MeV</text>
<path d="M502.0,575.2H506.4V576.2H503.3V603.6H506.4V604.6H502.0Z" fill="#000"/>
<path d="M571.1,575.2H566.7V576.2H569.8000000000001V603.6H566.7V604.6H571.1Z" fill="#000"/>
<g transform="translate(27.9,373.5) rotate(-90)">
<path d="M5.5,-0.6L7.8,-0.6L13.2,-19.6L10.9,-19.6Z M3.2,-20.7H20.3V-19.5H3.2Z M3.2,-20.7L4.5,-19.5L1.3,-13.9L0.5,-14.2Z M19.2,-19.5L20.5,-20.7L20.4,-14.1L19.7,-14.1Z M1.8,-1.1H11.7V0H1.8Z" fill="#000"/>
<text font-family="Liberation Serif, serif" font-size="19.8" x="20.25" y="-12.20" textLength="9.40" lengthAdjust="spacingAndGlyphs">0</text>
<text font-family="Liberation Serif, serif" font-style="italic" font-size="20.5" x="29.45" y="-12.20" textLength="13.27" lengthAdjust="spacingAndGlyphs">ν</text>
<text font-family="Liberation Serif, serif" font-size="20.2" x="16.19" y="6.80" textLength="11.14" lengthAdjust="spacingAndGlyphs">1</text>
<path d="M29.7,11.4L37.1,-8.0" stroke="#000" stroke-width="1.1" fill="none"/>
<text font-family="Liberation Serif, serif" font-size="20.2" x="38.02" y="6.80" textLength="10.98" lengthAdjust="spacingAndGlyphs">2</text>
<path d="M60.7,-22.8Q45.3,-7.8 60.7,7.2L61.4,7.2Q48.9,-7.8 61.4,-22.8Z" fill="#000"/>
<text font-family="Liberation Serif, serif" font-size="19.6" x="61.35" y="-12.60" textLength="20.67" lengthAdjust="spacingAndGlyphs">76</text>
<text font-family="Liberation Serif, serif" font-size="31" x="84.38" y="0.00" textLength="35.62" lengthAdjust="spacingAndGlyphs" stroke="#fff" stroke-width="0.22">Ge</text>
<path d="M121.7,-22.8Q135.3,-7.8 121.7,7.2L121.0,7.2Q131.7,-7.8 121.0,-22.8Z" fill="#000"/>
<path d="M143.7,-22.8H148.2V-21.8H145.0V6.3H148.2V7.3H143.7Z" fill="#000"/>
<text font-family="Liberation Serif, serif" font-size="29.5" x="148.59" y="0.00" textLength="26.02" lengthAdjust="spacingAndGlyphs" stroke="#fff" stroke-width="0.22">yr</text>
<path d="M180.3,-22.8H175.8V-21.8H179.0V6.3H175.8V7.3H180.3Z" fill="#000"/>
</g>
</svg>
</body></html>
